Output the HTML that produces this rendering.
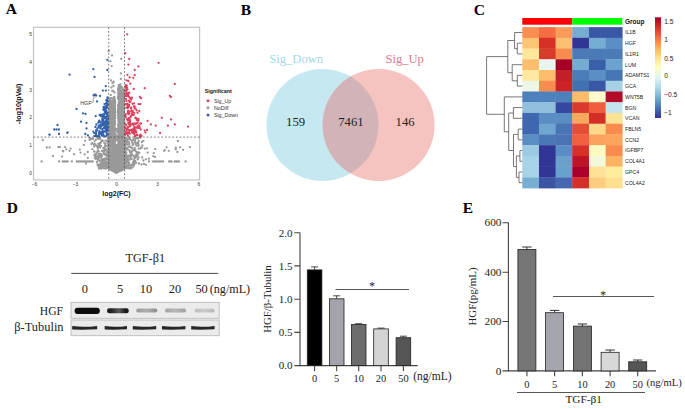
<!DOCTYPE html>
<html><head><meta charset="utf-8"><style>
html,body{margin:0;padding:0;background:#fff;}
svg{display:block;}
</style></head><body>
<svg width="685" height="409" viewBox="0 0 685 409">
<defs>
<linearGradient id="cb" x1="0" y1="0" x2="0" y2="1">
<stop offset="0" stop-color="#A50026"/><stop offset="0.1" stop-color="#D73027"/><stop offset="0.2" stop-color="#F46D43"/>
<stop offset="0.3" stop-color="#FDAE61"/><stop offset="0.4" stop-color="#FEE090"/><stop offset="0.5" stop-color="#FFFFBF"/>
<stop offset="0.6" stop-color="#E0F3F8"/><stop offset="0.7" stop-color="#ABD9E9"/><stop offset="0.8" stop-color="#74ADD1"/>
<stop offset="0.9" stop-color="#4575B4"/><stop offset="1" stop-color="#313695"/>
</linearGradient>
<filter id="bl" x="-10%" y="-50%" width="120%" height="200%"><feGaussianBlur stdDeviation="0.6"/></filter>
<linearGradient id="l2" x1="0" x2="1" y1="0" y2="0"><stop offset="0" stop-color="#151515"/><stop offset="0.25" stop-color="#2a2a2a"/><stop offset="0.55" stop-color="#5a5a5a"/><stop offset="0.85" stop-color="#1a1a1a"/><stop offset="1" stop-color="#111"/></linearGradient>
<linearGradient id="l3" x1="0" x2="1" y1="0" y2="0"><stop offset="0" stop-color="#9a9a9a"/><stop offset="0.5" stop-color="#b0b0b0"/><stop offset="1" stop-color="#8e8e8e"/></linearGradient>
<linearGradient id="l4" x1="0" x2="1" y1="0" y2="0"><stop offset="0" stop-color="#a2a2a2"/><stop offset="0.5" stop-color="#b8b8b8"/><stop offset="1" stop-color="#a0a0a0"/></linearGradient>
<linearGradient id="l5" x1="0" x2="1" y1="0" y2="0"><stop offset="0" stop-color="#bdbdbd"/><stop offset="0.5" stop-color="#cbcbcb"/><stop offset="1" stop-color="#b8b8b8"/></linearGradient>
<clipPath id="cl"><circle cx="322.5" cy="125" r="56"/></clipPath>
<clipPath id="vf"><rect x="33.5" y="27.3" width="166.1" height="152.7"/></clipPath>
</defs>
<rect width="685" height="409" fill="#fff"/>

<g font-family="Liberation Serif, serif" font-weight="bold" font-size="15.5" fill="#000">
<text x="5.8" y="14.3">A</text><text x="240.8" y="15.3">B</text><text x="473.8" y="14.9">C</text>
<text x="6.8" y="213">D</text><text x="462.8" y="212.9">E</text>
</g>

<g clip-path="url(#vf)">
<g>
<path d="M112.6 170.0h0M109.2 162.4h0M121.5 132.3h0M118.8 163.0h0M121.9 106.1h0M124.4 127.1h0M113.8 158.6h0M123.5 134.5h0M111.2 106.8h0M116.3 167.5h0M112.9 127.9h0M116.5 169.4h0M120.3 168.4h0M109.9 152.3h0M115.9 165.7h0M109.9 163.3h0M118.2 168.8h0M123.7 103.2h0M115.9 172.3h0M110.8 113.0h0M114.1 156.1h0M124.1 137.8h0M110.7 166.8h0M114.7 110.0h0M120.9 118.3h0M124.0 120.5h0M113.1 112.4h0M116.9 161.9h0M108.7 155.0h0M112.6 129.3h0M116.3 169.9h0M121.7 120.5h0M115.6 155.0h0M109.3 165.1h0M124.3 118.7h0M110.2 162.7h0M122.6 106.6h0M115.5 149.3h0M114.3 129.7h0M118.5 121.2h0M110.8 115.6h0M112.2 139.1h0M108.8 149.5h0M116.8 169.1h0M122.8 99.3h0M119.0 119.0h0M110.6 162.0h0M122.1 129.9h0M120.2 168.0h0M123.1 108.6h0M109.6 108.0h0M109.8 128.6h0M112.4 164.1h0M123.5 169.1h0M112.9 169.5h0M120.9 139.5h0M110.9 153.9h0M109.7 144.4h0M110.7 166.6h0M113.7 168.3h0M114.9 147.0h0M121.4 168.2h0M109.6 149.5h0M124.0 111.4h0M123.0 139.4h0M109.4 107.6h0M122.0 158.7h0M110.9 124.2h0M120.2 161.5h0M116.3 161.1h0M120.7 100.9h0M123.0 131.4h0M113.4 114.1h0M116.4 158.8h0M120.1 119.7h0M116.5 157.5h0M123.5 107.9h0M116.4 154.4h0M116.1 168.6h0M113.9 133.0h0M119.5 126.1h0M113.5 147.5h0M112.2 122.0h0M119.4 140.0h0M109.5 108.3h0M123.9 168.6h0M113.3 145.1h0M122.6 115.6h0M114.6 120.3h0M119.8 103.6h0M116.4 166.1h0M110.2 100.1h0M114.2 131.3h0M113.6 146.7h0M114.8 104.6h0M114.4 123.8h0M119.0 143.4h0M122.9 158.9h0M110.6 111.5h0M119.9 96.3h0M121.2 144.1h0M112.0 124.1h0M123.3 143.4h0M119.7 166.4h0M112.5 113.9h0M111.7 162.9h0M121.0 159.7h0M119.2 119.2h0M120.7 133.0h0M109.5 140.5h0M114.6 100.7h0M109.7 104.0h0M109.1 135.3h0M122.3 121.8h0M116.4 152.8h0M109.4 113.8h0M123.7 160.3h0M114.8 148.8h0M115.4 171.8h0M119.5 138.8h0M123.0 129.9h0M114.3 158.6h0M114.0 132.1h0M114.0 111.1h0M116.6 172.2h0M121.6 95.2h0M109.3 136.3h0M122.9 134.3h0M114.3 98.4h0M121.2 100.7h0M108.8 160.9h0M121.3 120.3h0M111.5 129.6h0M120.7 162.8h0M120.1 150.1h0M123.3 124.4h0M117.3 169.0h0M124.2 148.9h0M113.0 142.1h0M118.8 96.2h0M115.7 155.1h0M117.9 155.2h0M119.4 169.5h0M118.5 159.9h0M124.5 114.6h0M124.4 160.5h0M119.7 133.5h0M116.5 166.4h0M122.6 109.3h0M121.7 127.6h0M120.3 126.5h0M116.0 162.5h0M113.9 163.0h0M111.8 165.3h0M115.1 159.1h0M116.0 164.7h0M112.8 149.9h0M115.8 160.9h0M112.8 126.2h0M116.3 171.4h0M113.7 167.7h0M111.2 138.5h0M117.5 163.4h0M121.1 95.8h0M122.6 162.3h0M119.0 144.9h0M116.5 150.1h0M122.6 139.7h0M111.8 121.3h0M118.7 113.7h0M112.3 134.9h0M119.4 114.9h0M113.4 154.3h0M124.3 99.8h0M118.3 152.4h0M119.0 88.7h0M110.8 158.9h0M119.2 164.9h0M113.0 156.0h0M118.7 99.5h0M114.5 163.0h0M113.8 112.6h0M121.4 106.0h0M122.5 126.3h0M114.5 104.3h0M123.0 137.7h0M118.6 102.8h0M118.3 143.7h0M111.3 169.2h0M110.5 135.1h0M121.1 94.3h0M121.1 126.1h0M115.7 167.1h0M115.2 157.4h0M121.2 106.3h0M113.5 144.4h0M116.1 169.5h0M110.5 120.0h0M114.3 140.3h0M113.0 116.1h0M110.2 133.9h0M109.6 134.5h0M123.8 90.9h0M111.3 138.8h0M121.0 120.8h0M112.8 159.3h0M121.9 149.4h0M111.9 157.2h0M113.0 101.5h0M111.8 131.1h0M114.1 140.0h0M121.4 153.1h0M114.6 151.3h0M119.9 165.6h0M117.9 149.4h0M119.7 127.1h0M109.7 148.6h0M120.8 168.9h0M113.4 124.8h0M116.5 155.7h0M114.5 136.5h0M113.5 143.5h0M112.5 115.6h0M123.7 119.5h0M119.2 96.5h0M109.1 167.4h0M108.7 129.3h0M116.5 167.7h0M123.0 110.3h0M119.0 96.8h0M114.0 169.7h0M112.2 134.1h0M110.7 158.3h0M112.0 123.0h0M122.0 146.8h0M109.7 127.6h0M113.7 149.2h0M119.3 115.4h0M113.5 139.0h0M111.0 119.1h0M112.7 133.7h0M110.8 105.3h0M113.3 114.9h0M118.0 151.0h0M119.9 93.5h0M119.4 96.2h0M109.4 125.0h0M122.0 126.9h0M112.1 141.4h0M120.2 116.9h0M110.5 166.0h0M114.0 136.1h0M115.0 116.4h0M109.7 123.6h0M109.8 127.0h0M110.6 120.6h0M117.6 172.2h0M124.3 139.9h0M116.8 171.9h0M120.8 156.2h0M108.7 144.6h0M124.5 114.8h0M113.4 141.5h0M119.7 122.6h0M121.1 91.6h0M113.5 149.9h0M118.9 163.4h0M109.1 148.1h0M124.0 106.0h0M113.8 158.5h0M115.1 156.2h0M122.9 144.7h0M123.4 114.3h0M110.4 146.7h0M116.3 152.2h0M116.6 161.2h0M116.8 169.6h0M113.1 111.0h0M115.0 102.1h0M114.5 146.3h0M114.3 129.9h0M121.4 124.9h0M111.4 158.7h0M114.7 108.1h0M122.0 135.5h0M121.3 153.9h0M116.7 168.6h0M118.6 131.5h0M121.8 116.2h0M124.1 160.6h0M116.0 159.7h0M122.7 121.4h0M123.6 112.5h0M123.8 159.8h0M113.7 116.4h0M122.0 161.9h0M113.5 131.1h0M121.5 92.2h0M123.4 115.9h0M117.2 171.8h0M118.5 149.7h0M111.6 113.7h0M110.7 128.0h0M111.6 126.3h0M116.5 149.5h0M117.1 150.1h0M118.9 95.6h0M115.5 154.2h0M109.6 163.6h0M115.8 134.1h0M112.6 154.1h0M124.4 128.4h0M116.1 147.9h0M111.1 163.3h0M118.3 107.8h0M111.1 134.7h0M110.0 118.2h0M113.0 151.7h0M120.1 118.5h0M119.8 88.1h0M119.9 155.1h0M122.6 150.8h0M123.9 99.7h0M110.7 142.4h0M112.3 169.5h0M123.2 112.9h0M120.3 150.7h0M121.2 163.0h0M115.1 102.8h0M113.5 157.3h0M112.2 101.7h0M120.4 143.5h0M113.7 145.2h0M111.1 168.3h0M118.1 97.9h0M122.0 105.6h0M108.9 165.3h0M118.6 141.2h0M119.3 168.9h0M112.2 122.5h0M114.7 165.1h0M115.0 104.7h0M108.8 155.5h0M120.2 122.0h0M120.1 104.7h0M113.1 127.8h0M119.7 166.9h0M114.6 154.7h0M114.8 102.3h0M113.6 120.8h0M123.9 149.4h0M112.8 111.8h0M122.5 137.6h0M110.7 145.0h0M109.8 154.3h0M118.0 117.3h0M113.1 150.7h0M111.9 104.8h0M114.6 168.2h0M116.4 166.3h0M112.8 143.4h0M112.1 170.5h0M111.9 156.2h0M119.0 92.2h0M116.8 165.5h0M112.3 168.7h0M116.4 165.4h0M108.9 108.8h0M123.1 150.7h0M118.9 135.7h0M118.4 160.4h0M120.3 148.4h0M109.5 107.6h0M109.1 136.1h0M118.9 164.7h0M117.0 155.2h0M122.7 157.6h0M120.5 137.9h0M119.0 171.6h0M121.9 163.2h0M111.6 129.2h0M121.8 136.5h0M110.8 123.3h0M123.8 166.9h0M119.6 134.6h0M122.9 156.4h0M124.3 163.9h0M121.5 158.4h0M110.2 145.7h0M110.3 147.4h0M123.4 147.2h0M119.7 110.9h0M123.1 127.5h0M111.0 133.8h0M113.4 131.0h0M118.6 118.2h0M121.3 161.2h0M113.0 107.5h0M123.1 95.2h0M112.9 144.0h0M121.9 130.9h0M121.4 132.8h0M113.1 159.2h0M110.2 158.8h0M117.6 156.8h0M119.9 113.2h0M114.9 104.4h0M113.4 166.3h0M121.7 170.5h0M123.1 165.7h0M116.0 154.8h0M117.1 157.5h0M113.4 137.6h0M110.3 149.4h0M122.2 88.8h0M119.3 155.0h0M114.7 154.1h0M108.7 159.1h0M113.2 140.5h0M123.8 116.7h0M118.0 130.4h0M115.3 171.5h0M108.9 145.9h0M122.2 114.3h0M118.0 118.1h0M123.0 111.4h0M112.1 131.5h0M116.1 163.0h0M118.4 148.6h0M117.6 157.4h0M114.0 168.5h0M117.7 156.6h0M119.4 148.7h0M119.1 136.3h0M116.5 159.5h0M124.5 132.4h0M121.9 92.1h0M113.1 159.8h0M109.5 105.7h0M108.8 122.3h0M108.8 103.8h0M121.5 97.6h0M115.0 159.9h0M110.1 104.2h0M110.9 137.0h0M109.5 139.8h0M120.2 150.8h0M117.6 172.1h0M123.6 136.3h0M119.9 138.0h0M121.0 167.4h0M120.8 142.1h0M113.9 154.8h0M111.8 161.9h0M112.4 126.3h0M122.0 106.5h0M121.1 138.8h0M115.1 153.7h0M119.4 144.1h0M112.1 105.9h0M124.4 135.4h0M114.9 165.8h0M110.6 160.7h0M109.1 153.3h0M116.1 159.7h0M120.2 92.6h0M119.3 166.8h0M123.6 164.1h0M123.0 102.7h0M112.4 118.7h0M114.5 121.1h0M113.7 118.2h0M112.1 127.9h0M120.3 170.4h0M114.6 159.5h0M118.2 126.2h0M117.2 163.4h0M116.2 168.8h0M119.8 130.4h0M119.3 101.9h0M123.9 162.5h0M117.6 169.3h0M111.1 119.8h0M114.3 135.4h0M120.8 168.7h0M114.1 132.2h0M122.3 122.2h0M119.0 156.7h0M111.1 127.4h0M115.1 124.7h0M122.7 153.6h0M121.4 98.7h0M108.9 126.5h0M120.3 170.8h0M121.7 144.5h0M108.8 117.7h0M111.1 164.7h0M109.5 161.6h0M115.6 167.8h0M110.4 165.2h0M112.8 129.1h0M122.5 168.6h0M122.8 139.5h0M112.5 161.6h0M109.3 142.0h0M112.1 123.2h0M113.7 105.2h0M118.3 168.4h0M112.4 116.4h0M113.9 155.9h0M111.2 128.8h0M120.8 169.0h0M120.5 170.7h0M119.2 112.1h0M114.5 105.5h0M113.4 124.2h0M111.4 124.4h0M115.1 169.4h0M110.7 118.1h0M118.1 110.1h0M119.1 167.3h0M112.3 135.5h0M115.3 150.6h0M115.1 153.6h0M120.0 117.6h0M112.5 165.2h0M121.1 170.7h0M120.0 114.3h0M113.4 133.3h0M116.3 165.9h0M112.4 128.7h0M119.2 167.9h0M110.5 163.1h0M110.0 126.0h0M108.7 147.9h0M109.1 135.7h0M110.9 141.9h0M110.1 105.0h0M120.8 156.2h0M111.0 101.7h0M114.0 123.9h0M120.8 159.8h0M122.7 129.9h0M122.0 107.1h0M115.4 153.4h0M109.1 123.3h0M119.6 102.0h0M113.6 160.8h0M119.7 128.0h0M113.2 153.4h0M115.9 149.6h0M116.7 146.1h0M118.8 94.4h0M124.3 139.9h0M123.7 146.5h0M116.4 147.2h0M112.9 117.7h0M119.3 150.3h0M112.4 170.7h0M123.3 143.3h0M112.5 167.6h0M121.0 95.0h0M110.4 134.7h0M114.4 151.1h0M110.6 149.6h0M118.4 138.2h0M121.5 112.2h0M124.3 92.9h0M121.8 119.5h0M122.2 87.5h0M108.7 139.3h0M118.7 140.9h0M122.6 131.2h0M118.8 122.4h0M123.9 144.6h0M120.7 92.0h0M122.8 157.7h0M116.0 152.5h0M120.1 152.3h0M113.4 107.5h0M119.6 141.8h0M110.6 115.8h0M114.3 96.8h0M113.0 161.7h0M118.5 94.1h0M122.3 120.1h0M123.6 164.3h0M115.7 140.4h0M117.9 165.9h0M122.5 113.6h0M109.6 126.0h0M112.7 158.8h0M112.0 121.2h0M114.9 100.6h0M119.3 163.9h0M110.5 152.2h0M114.8 114.7h0M108.8 146.1h0M112.9 165.6h0M116.0 138.8h0M119.0 87.9h0M124.2 160.3h0M114.5 143.3h0M120.3 96.4h0M121.4 121.1h0M109.0 160.6h0M121.2 114.6h0M112.8 113.7h0M122.9 155.0h0M121.5 94.4h0M119.2 139.3h0M123.5 142.8h0M116.2 148.5h0M118.2 120.1h0M109.9 108.8h0M118.2 163.7h0M111.0 143.2h0M110.4 158.8h0M120.7 86.3h0M113.3 141.6h0M120.9 129.8h0M118.8 119.9h0M122.1 155.3h0M123.3 161.4h0M120.8 165.2h0M119.6 155.8h0M114.1 120.1h0M123.3 123.9h0M114.8 170.1h0M123.7 125.1h0M119.2 127.2h0M118.1 114.5h0M113.7 143.8h0M116.1 155.4h0M110.8 126.6h0M112.7 104.5h0M112.8 115.2h0M112.9 119.7h0M111.7 166.6h0M111.2 156.0h0M110.5 155.8h0M110.4 167.5h0M122.1 111.4h0M119.5 134.6h0M124.2 164.1h0M111.8 162.3h0M109.9 163.6h0M114.4 166.0h0M118.9 126.5h0M116.0 171.9h0M121.6 159.4h0M112.6 132.7h0M118.0 97.3h0M124.4 165.9h0M118.5 121.3h0M120.2 120.6h0M113.2 140.3h0M109.9 115.9h0M113.1 110.6h0M118.3 144.0h0M109.6 113.3h0M118.7 136.5h0M120.0 130.1h0M114.7 112.4h0M122.9 121.1h0M111.0 169.5h0M110.4 126.6h0M122.8 121.3h0M122.9 147.1h0M119.2 96.9h0M115.6 154.4h0M110.0 111.2h0M110.0 145.8h0M113.5 147.5h0M120.3 99.3h0M119.7 131.6h0M112.6 125.2h0M123.6 166.8h0M113.3 116.2h0M117.9 152.5h0M122.9 122.7h0M112.1 167.7h0M121.8 115.7h0M116.4 160.2h0M112.5 168.9h0M113.8 162.3h0M114.8 118.7h0M120.5 90.7h0M119.0 171.6h0M115.3 147.6h0M114.1 104.2h0M115.7 140.6h0M112.6 126.1h0M114.6 100.1h0M122.2 96.7h0M113.1 164.9h0M122.1 94.7h0M123.9 95.2h0M122.8 134.6h0M120.7 139.4h0M117.5 162.7h0M115.1 131.5h0M111.2 111.0h0M114.6 142.8h0M111.2 144.4h0M109.6 144.7h0M110.3 154.7h0M124.2 89.7h0M111.0 149.9h0M116.6 161.8h0M111.6 113.3h0M123.5 163.4h0M110.5 122.3h0M121.7 105.5h0M123.3 152.4h0M122.2 139.0h0M121.7 115.5h0M114.7 154.1h0M124.3 118.9h0M123.6 120.2h0M124.3 134.3h0M124.0 97.1h0M116.2 172.2h0M115.8 162.3h0M108.9 164.4h0M111.1 143.6h0M110.7 123.1h0M115.8 164.6h0M121.2 102.8h0M119.2 168.4h0M124.0 169.2h0M113.7 144.1h0M123.1 148.0h0M120.9 129.7h0M122.4 125.1h0M121.2 109.0h0M114.6 150.4h0M123.1 123.9h0M113.1 131.8h0M109.7 104.5h0M109.0 131.0h0M108.9 138.6h0M113.5 161.8h0M111.3 111.3h0M114.1 161.1h0M119.0 148.3h0M110.5 163.5h0M110.4 150.5h0M110.5 147.1h0M122.3 126.4h0M109.0 161.3h0M121.2 125.6h0M113.8 125.6h0M116.8 165.1h0M113.7 117.5h0M124.1 128.2h0M120.6 164.2h0M122.6 157.2h0M123.3 117.8h0M114.6 142.7h0M110.7 137.8h0M123.2 162.1h0M124.1 92.8h0M121.3 160.4h0M123.6 126.3h0M123.9 142.3h0M114.1 104.7h0M113.7 123.6h0M117.6 169.6h0M112.7 165.4h0M118.4 88.0h0M120.9 152.8h0M116.7 163.1h0M108.8 151.8h0M119.8 160.8h0M111.7 157.7h0M121.9 168.8h0M108.9 166.1h0M118.8 89.9h0M123.6 114.3h0M113.2 161.9h0M109.4 134.1h0M110.7 160.7h0M119.1 126.0h0M109.9 114.4h0M121.2 102.3h0M113.0 123.3h0M121.4 107.9h0M112.0 145.6h0M115.7 168.3h0M124.4 142.9h0M117.7 169.5h0M118.8 88.7h0M121.3 133.5h0M111.6 113.0h0M115.1 108.7h0M118.4 106.3h0M110.9 153.9h0M120.5 86.7h0M113.5 128.3h0M111.5 117.8h0M121.9 146.0h0M120.3 169.6h0M109.1 168.7h0M117.5 172.3h0M112.9 151.0h0M113.8 154.2h0M118.3 164.3h0M116.3 158.0h0M120.0 148.1h0M118.5 147.5h0M118.6 91.3h0M116.4 160.8h0M121.1 108.1h0M120.5 109.7h0M115.5 165.8h0M110.4 162.6h0M119.0 169.3h0M110.0 104.7h0M108.9 138.9h0M120.2 113.7h0M119.4 150.1h0M120.5 96.3h0M110.0 165.4h0M111.5 161.5h0M115.8 152.6h0M123.7 159.6h0M121.7 167.2h0M114.7 148.4h0M109.3 128.5h0M110.3 111.0h0M115.4 165.7h0M124.2 149.1h0M108.9 113.6h0M113.9 144.9h0M119.2 133.9h0M121.7 136.7h0M116.9 160.7h0M115.8 170.8h0M120.2 150.7h0M113.0 167.1h0M124.5 154.3h0M112.4 140.2h0M116.2 161.1h0M118.0 139.2h0M109.0 105.4h0M120.5 143.6h0M116.8 168.9h0M114.7 143.3h0M118.3 169.7h0M119.5 108.2h0M122.5 113.3h0M123.3 120.2h0M113.9 163.4h0M110.0 109.5h0M111.5 128.0h0M123.6 161.3h0M118.9 131.9h0M113.1 165.7h0M123.6 147.4h0M112.9 124.8h0M122.1 110.3h0M118.6 125.4h0M120.9 139.1h0M118.6 91.2h0M124.0 121.8h0M111.3 152.4h0M108.9 122.2h0M119.8 164.7h0M110.0 154.1h0M113.3 107.6h0M116.5 152.4h0M116.7 156.2h0M121.0 152.3h0M118.4 89.8h0M123.2 92.9h0M112.7 163.9h0M118.0 137.0h0M114.4 111.2h0M119.5 161.1h0M123.7 148.2h0M121.5 151.8h0M116.0 167.1h0M110.3 146.4h0M124.3 123.7h0M115.2 150.6h0M118.7 127.0h0M116.5 147.2h0M123.2 139.0h0M124.4 149.2h0M112.1 107.5h0M123.1 137.2h0M118.9 149.8h0M117.5 165.1h0M121.7 164.3h0M111.1 166.1h0M111.2 113.0h0M124.1 110.6h0M119.7 105.3h0M122.3 101.3h0M111.6 139.0h0M122.2 115.8h0M119.2 148.5h0M119.2 86.4h0M123.4 129.5h0M115.2 112.5h0M118.5 157.7h0M111.6 142.0h0M111.2 160.8h0M112.1 163.4h0M119.9 136.5h0M108.9 131.6h0M111.1 151.6h0M110.8 147.2h0M109.2 150.6h0M111.9 131.4h0M112.4 146.1h0M118.2 162.2h0M120.0 139.0h0M110.1 122.6h0M121.1 118.3h0M114.4 133.0h0M108.8 121.4h0M116.3 168.2h0M112.2 111.2h0M112.6 146.3h0M115.8 172.5h0M111.3 114.9h0M113.8 139.2h0M110.0 140.3h0M120.1 113.7h0M122.0 98.5h0M113.3 108.3h0M118.2 93.4h0M120.8 160.4h0M118.9 134.8h0M113.5 155.2h0M120.7 156.9h0M122.9 127.1h0M114.9 148.0h0M114.4 149.7h0M115.4 166.2h0M109.2 164.7h0M116.6 156.4h0M120.7 136.2h0M111.4 166.5h0M118.0 98.8h0M120.0 130.7h0M111.1 162.2h0M118.1 93.2h0M114.0 113.6h0M119.8 95.4h0M114.5 166.4h0M122.1 112.2h0M112.5 134.0h0M119.8 158.1h0M119.7 126.5h0M112.8 145.7h0M120.4 154.4h0M119.9 107.9h0M109.2 129.5h0M110.0 157.2h0M116.4 162.7h0M121.8 151.4h0M113.8 109.5h0M117.3 168.0h0M112.2 166.3h0M124.5 107.4h0M122.7 95.0h0M114.5 127.3h0M109.9 120.2h0M121.7 147.0h0M113.5 126.3h0M118.7 91.9h0M118.2 90.6h0M122.0 170.3h0M122.3 156.6h0M110.8 158.3h0M117.1 166.6h0M116.5 163.9h0M119.0 162.0h0M112.2 129.9h0M112.4 154.2h0M114.4 118.6h0M110.5 121.4h0M118.5 143.3h0M113.1 128.0h0M108.7 117.2h0M123.9 152.2h0M121.9 100.4h0M112.6 139.3h0M115.7 164.0h0M108.7 151.8h0M121.5 119.4h0M112.5 167.8h0M116.8 168.2h0M119.8 132.1h0M111.9 170.6h0M122.1 115.0h0M123.3 131.9h0M118.0 139.6h0M119.5 131.6h0M123.6 97.1h0M113.0 127.1h0M113.7 131.5h0M114.1 161.0h0M119.1 157.8h0M119.7 166.3h0M119.3 124.5h0M112.9 168.2h0M122.4 157.3h0M121.4 92.3h0M109.2 102.9h0M119.9 99.0h0M117.4 147.6h0M109.9 150.1h0M110.9 142.8h0M120.1 100.6h0M114.8 102.1h0M119.4 135.8h0M111.6 153.6h0M110.6 169.8h0M117.2 171.8h0M119.1 129.3h0M121.7 115.3h0M121.7 110.7h0M113.7 101.6h0M116.2 162.8h0M113.7 109.8h0M114.3 145.6h0M118.7 107.8h0M123.6 93.7h0M119.7 116.9h0M113.1 107.2h0M109.6 108.1h0M122.4 113.4h0M119.4 97.7h0M123.8 158.7h0M112.1 117.5h0M110.1 135.1h0M112.9 156.0h0M120.7 138.7h0M117.9 161.7h0M121.3 136.8h0M113.8 115.6h0M109.1 138.2h0M123.2 154.9h0M124.1 116.3h0M109.2 127.9h0M111.4 115.8h0M123.4 156.0h0M111.1 104.6h0M113.4 145.1h0M114.0 100.0h0M123.3 105.3h0M114.9 128.2h0M120.2 146.5h0M115.0 118.3h0M123.2 168.1h0M115.3 154.8h0M111.1 133.6h0M118.5 151.4h0M116.1 148.9h0M121.4 129.8h0M123.7 133.0h0M119.5 135.9h0M118.5 123.2h0M114.1 152.6h0M118.4 115.3h0M120.0 90.3h0M119.5 101.1h0M119.1 131.8h0M110.4 125.2h0M122.5 109.6h0M121.4 153.6h0M122.9 163.7h0M116.7 156.1h0M120.0 124.0h0M122.1 165.9h0M117.5 158.5h0M122.0 98.0h0M122.9 113.4h0M114.0 97.1h0M124.0 123.0h0M111.0 145.4h0M114.0 167.3h0M110.2 155.3h0M116.2 162.7h0M115.0 106.7h0M115.3 163.9h0M120.0 115.6h0M120.3 150.3h0M111.2 144.2h0M114.0 137.9h0M122.5 124.9h0M114.6 124.8h0M112.0 110.4h0M113.1 161.4h0M112.5 160.2h0M118.5 142.1h0M120.7 137.1h0M123.5 130.2h0M115.9 152.8h0M110.7 140.7h0M113.3 102.7h0M119.7 139.1h0M121.3 158.2h0M122.3 164.4h0M109.7 162.5h0M112.6 143.6h0M109.0 136.9h0M116.3 157.9h0M118.3 125.8h0M114.4 136.4h0M113.1 162.0h0M124.2 144.3h0M113.6 129.0h0M122.5 137.6h0M110.2 135.1h0M123.0 122.3h0M122.7 93.2h0M119.0 152.0h0M112.6 144.2h0M119.3 135.1h0M113.5 158.9h0M110.7 143.9h0M121.8 154.0h0M119.0 166.8h0M119.0 110.6h0M123.0 105.6h0M111.3 114.7h0M110.9 167.4h0M122.2 93.8h0M113.2 127.2h0M112.2 159.1h0M121.0 121.6h0M120.4 84.4h0M110.1 136.9h0M111.4 166.9h0M109.9 163.8h0M117.4 157.5h0M118.7 113.9h0M110.3 112.1h0M118.6 155.3h0M119.9 126.5h0M123.1 116.9h0M112.5 115.1h0M121.3 134.8h0M112.7 155.6h0M112.8 166.5h0M122.8 161.3h0M111.6 168.9h0M113.7 114.7h0M110.2 148.9h0M117.8 170.9h0M122.9 162.4h0M113.1 160.3h0M122.2 121.0h0M113.1 133.3h0M119.1 137.1h0M116.7 155.5h0M109.0 117.0h0M119.3 131.8h0M120.3 109.8h0M112.4 155.7h0M113.2 111.8h0M112.2 118.9h0M122.5 115.5h0M110.7 108.6h0M121.6 168.0h0M112.7 170.2h0M119.9 152.7h0M117.1 145.8h0M121.5 113.0h0M111.2 167.3h0M110.6 116.6h0M112.7 161.7h0M123.9 115.7h0M123.3 163.8h0M118.9 169.6h0M109.0 154.4h0M121.9 169.4h0M113.2 112.0h0M116.7 172.7h0M117.0 157.6h0M120.7 150.8h0M118.2 133.0h0M121.9 152.5h0M112.6 151.7h0M112.3 112.8h0M110.6 152.0h0M122.4 121.1h0M118.9 139.2h0M111.5 167.5h0M114.0 160.3h0M110.4 166.9h0M124.2 138.3h0M123.8 117.3h0M120.9 104.9h0M122.2 146.9h0M121.2 157.0h0M110.7 145.7h0M124.0 129.8h0M115.3 147.6h0M111.0 116.5h0M114.2 130.3h0M119.0 151.6h0M110.5 169.5h0M123.7 167.9h0M112.4 167.2h0M113.4 103.0h0M120.8 169.3h0M121.1 163.3h0M120.7 118.8h0M122.9 166.5h0M110.4 147.7h0M122.8 95.5h0M110.8 154.6h0M119.3 117.0h0M115.1 167.6h0M116.8 158.6h0M118.8 158.8h0M118.2 124.7h0M109.4 140.6h0M109.9 114.8h0M121.0 124.4h0M122.2 137.5h0M115.5 171.2h0M119.2 160.2h0M109.1 163.4h0M118.3 117.1h0M116.3 151.9h0M118.2 136.0h0M110.0 132.7h0M118.3 111.1h0M109.8 140.6h0M110.5 151.4h0M120.6 142.0h0M112.6 142.2h0M124.5 147.7h0M114.8 158.9h0M113.3 136.5h0M109.0 130.7h0M117.5 136.0h0M124.0 146.4h0M114.8 146.4h0M114.2 99.1h0M122.2 131.6h0M109.2 152.7h0M115.7 146.2h0M119.8 115.2h0M119.7 118.6h0M119.1 141.1h0M115.5 154.8h0M114.3 139.7h0M110.8 121.9h0M120.6 166.9h0M115.9 149.5h0M112.8 169.7h0M124.1 110.6h0M110.7 121.2h0M118.8 96.3h0M110.3 158.6h0M115.0 113.2h0M113.9 118.0h0M120.9 155.4h0M124.3 92.3h0M114.6 135.7h0M116.7 149.7h0M109.7 113.4h0M117.6 156.7h0M111.4 139.4h0M111.7 146.2h0M118.9 133.6h0M122.1 166.2h0M123.9 112.4h0M123.5 142.1h0M115.5 162.5h0M122.5 127.9h0M113.6 109.6h0M113.6 149.1h0M114.4 104.7h0M113.1 148.6h0M120.6 153.6h0M110.4 112.7h0M121.1 138.5h0M122.1 141.4h0M114.1 101.1h0M114.6 170.7h0M120.3 123.8h0M122.0 150.1h0M113.4 158.9h0M112.5 158.9h0M119.1 145.3h0M123.5 128.6h0M120.9 138.1h0M112.6 147.1h0M113.0 143.1h0M124.5 122.6h0M110.6 128.0h0M111.8 108.3h0M124.3 113.3h0M112.9 105.3h0M109.8 151.3h0M108.8 113.8h0M122.3 135.2h0M118.9 118.5h0M121.1 106.1h0M124.4 126.6h0M111.0 112.5h0M124.0 144.6h0M123.9 130.5h0M116.3 170.2h0M124.1 153.8h0M120.0 106.1h0M122.1 151.1h0M111.8 121.6h0M123.3 118.1h0M114.2 153.2h0M116.9 165.9h0M116.8 163.0h0M115.7 158.3h0M119.2 127.0h0M110.9 143.7h0M120.5 165.8h0M123.5 110.3h0M119.3 117.8h0M114.6 147.3h0M116.9 172.1h0M120.8 93.3h0M113.6 171.4h0M124.5 142.8h0M116.8 163.6h0M113.2 170.7h0M117.3 162.7h0M120.0 145.0h0M123.7 144.9h0M119.1 115.7h0M119.9 95.0h0M116.2 163.3h0M108.8 160.8h0M124.2 103.6h0M114.5 167.5h0M119.4 170.1h0M110.1 166.0h0M122.4 133.8h0M111.4 113.2h0M111.3 162.5h0M124.3 123.4h0M123.3 103.2h0M118.1 111.2h0M115.0 157.5h0M110.7 126.9h0M120.7 117.7h0M124.3 160.3h0M110.1 147.6h0M115.0 109.9h0M124.1 98.4h0M116.0 148.4h0M112.8 161.3h0M112.6 123.5h0M113.0 162.8h0M112.0 125.3h0M123.2 100.5h0M114.1 155.4h0M120.5 130.2h0M114.7 145.7h0M112.1 156.3h0M117.6 162.7h0M115.0 153.8h0M114.6 162.3h0M120.3 90.3h0M112.1 146.1h0M109.7 120.7h0M117.7 164.6h0M112.3 148.1h0M108.8 134.1h0M116.7 164.1h0M111.3 102.6h0M109.7 142.7h0M115.7 151.6h0M120.4 101.7h0M108.7 165.7h0M113.7 161.8h0M119.1 106.7h0M113.1 119.2h0M114.8 110.7h0M118.0 157.3h0M110.0 114.1h0M122.9 137.4h0M113.5 102.2h0M110.8 128.3h0M116.6 155.6h0M123.8 144.1h0M113.9 106.9h0M120.6 166.9h0M123.5 145.0h0M114.9 129.1h0M112.3 134.6h0M116.4 147.6h0M117.5 136.7h0M122.6 166.7h0M110.5 112.0h0M112.8 116.0h0M122.5 160.5h0M122.3 137.9h0M118.8 134.0h0M111.8 159.2h0M114.3 167.0h0M108.7 122.7h0M121.7 117.6h0M120.2 105.3h0M122.1 135.6h0M112.0 127.4h0M115.9 167.2h0M118.0 98.3h0M119.0 120.3h0M111.8 127.9h0M112.2 159.1h0M115.5 115.3h0M110.7 138.6h0M124.1 98.1h0M123.3 99.5h0M113.7 169.8h0M112.5 167.8h0M117.8 160.3h0M110.4 109.3h0M121.1 147.7h0M121.7 152.1h0M119.0 93.3h0M114.6 158.1h0M110.8 131.7h0M112.0 141.6h0M119.4 108.8h0M114.2 129.2h0M116.6 158.1h0M124.0 157.2h0M111.7 138.5h0M112.6 166.7h0M109.8 104.7h0M115.1 148.8h0M113.4 129.1h0M119.6 98.5h0M114.0 163.8h0M123.6 125.1h0M111.2 151.4h0M120.3 169.7h0M115.0 146.9h0M124.3 158.2h0M114.3 131.0h0M120.6 115.4h0M119.6 155.7h0M111.9 150.2h0M109.6 112.2h0M117.2 171.8h0M113.7 149.8h0M116.7 171.6h0M122.4 165.9h0M111.1 137.8h0M109.5 149.8h0M114.0 125.0h0M116.7 158.1h0M122.4 165.8h0M114.9 100.5h0M119.0 101.8h0M116.9 166.4h0M109.3 159.6h0M119.7 132.2h0M113.4 145.4h0M117.3 172.4h0M111.5 113.8h0M117.6 170.2h0M122.2 147.1h0M110.6 106.1h0M116.5 172.1h0M119.4 170.3h0M119.5 126.4h0M111.8 126.4h0M114.2 162.2h0M113.4 134.3h0M113.5 159.3h0M119.3 165.7h0M118.0 148.3h0M115.7 151.1h0M113.5 146.0h0M116.7 158.5h0M109.9 143.4h0M109.1 113.3h0M113.5 154.3h0M114.0 162.0h0M123.8 127.7h0M120.6 169.6h0M115.1 168.0h0M122.4 162.8h0M119.4 126.8h0M121.3 155.7h0M121.6 92.5h0M114.5 120.1h0M118.6 135.1h0M124.3 156.6h0M113.2 112.6h0M114.3 127.6h0M121.4 95.0h0M123.7 124.3h0M114.5 126.8h0M123.2 152.5h0M110.5 108.5h0M113.6 154.3h0M124.4 153.7h0M109.9 117.2h0M114.6 105.7h0M109.1 101.3h0M123.2 92.3h0M120.1 158.5h0M124.1 138.8h0M115.3 171.0h0M123.2 150.6h0M124.3 146.3h0M112.6 141.6h0M116.1 160.7h0M112.8 160.6h0M111.6 126.0h0M123.5 89.5h0M120.5 157.3h0M118.1 147.0h0M111.3 126.9h0M121.0 153.9h0M120.1 153.2h0M110.3 129.8h0M118.0 141.1h0M118.4 106.9h0M117.0 172.7h0M120.0 152.4h0M109.7 138.4h0M123.8 152.6h0M120.7 107.9h0M117.0 160.1h0M123.5 122.6h0M119.9 116.7h0M110.8 109.6h0M122.5 117.5h0M120.4 107.0h0M122.2 97.0h0M111.8 138.1h0M118.7 168.5h0M113.2 163.5h0M111.6 127.3h0M118.4 95.1h0M124.0 146.6h0M123.1 152.3h0M118.4 156.8h0M121.4 165.7h0M115.6 159.8h0M116.7 165.5h0M113.4 140.1h0M113.9 121.2h0M111.1 157.1h0M120.9 166.8h0M112.5 148.5h0M112.7 135.2h0M115.1 148.1h0M115.1 145.2h0M112.4 150.7h0M118.0 157.3h0M122.5 107.2h0M124.0 97.6h0M112.8 165.7h0M113.9 127.6h0M122.1 96.6h0M118.7 126.7h0M112.5 124.9h0M114.2 170.6h0M123.2 107.4h0M111.4 113.9h0M112.8 144.5h0M124.3 105.3h0M120.7 106.3h0M120.9 130.9h0M123.9 102.8h0M112.3 114.1h0M108.9 109.8h0M112.3 104.2h0M116.2 153.4h0M120.3 100.0h0M119.9 139.0h0M112.9 139.9h0M112.1 116.8h0M110.5 121.7h0M117.0 165.5h0M109.2 104.4h0M115.0 121.3h0M117.0 161.4h0M113.9 148.8h0M122.6 115.5h0M119.3 117.3h0M114.3 135.6h0M111.2 155.5h0M109.2 167.4h0M117.5 148.4h0M109.3 126.3h0M114.0 168.7h0M116.2 162.0h0M109.9 160.2h0M112.9 157.9h0M118.5 87.3h0M115.0 129.2h0M109.7 126.7h0M120.0 148.4h0M115.2 146.1h0M116.6 160.9h0M110.0 165.0h0M123.0 104.1h0M114.6 171.1h0M121.3 107.5h0M122.7 95.3h0M120.4 134.4h0M111.8 98.2h0M122.6 100.0h0M111.6 121.4h0M119.4 101.7h0M112.7 137.1h0M120.7 109.8h0M113.1 130.5h0M110.3 161.5h0M109.5 131.3h0M114.1 151.2h0M116.5 171.4h0M118.8 137.7h0M120.7 112.3h0M119.0 85.6h0M121.8 159.4h0M118.1 106.1h0M110.5 146.1h0M112.8 149.0h0M119.5 140.3h0M122.2 116.7h0M123.7 105.7h0M120.3 148.3h0M118.7 151.0h0M122.0 115.9h0M119.9 135.6h0M109.9 100.9h0M123.2 157.4h0M109.7 116.3h0M118.0 135.6h0M112.6 125.2h0M111.9 134.2h0M114.2 100.8h0M117.8 150.8h0M120.9 127.6h0M124.4 91.7h0M111.7 142.1h0M110.5 119.2h0M116.4 166.6h0M114.6 142.6h0M123.8 123.8h0M120.7 101.6h0M119.8 112.6h0M123.1 155.0h0M114.8 121.6h0M111.0 161.3h0M114.7 131.2h0M111.8 169.7h0M110.8 118.4h0M123.1 145.8h0M117.0 171.5h0M117.1 151.6h0M111.2 151.0h0M124.3 165.4h0M109.3 169.3h0M110.5 138.5h0M114.3 142.2h0M109.7 105.2h0M120.3 142.9h0M120.9 162.7h0M120.9 124.1h0M116.1 162.4h0M110.9 136.0h0M122.9 127.2h0M124.2 141.1h0M114.6 135.9h0M110.7 142.9h0M108.8 125.7h0M122.5 106.4h0M114.7 158.5h0M116.0 131.3h0M118.4 170.1h0M121.0 142.6h0M122.5 139.1h0M116.3 161.1h0M114.6 122.5h0M119.7 134.4h0M116.4 164.1h0M123.2 111.7h0M117.0 170.9h0M117.7 166.3h0M119.9 155.8h0M112.7 137.0h0M115.9 152.9h0M119.0 147.3h0M109.0 151.6h0M123.3 117.4h0M110.2 98.5h0M114.8 140.9h0M115.6 164.7h0M118.2 170.6h0M112.8 123.7h0M110.0 167.6h0M124.5 108.9h0M111.0 113.4h0M119.2 147.1h0M118.9 148.7h0M118.4 114.9h0M115.0 122.9h0M113.0 105.9h0M118.6 145.1h0M110.3 151.6h0M122.7 141.5h0M112.2 150.2h0M115.5 152.4h0M111.4 111.8h0M124.1 165.3h0M117.3 167.8h0M111.8 167.7h0M113.6 134.0h0M113.6 156.8h0M120.1 167.8h0M115.8 159.5h0M114.1 149.8h0M122.9 117.4h0M113.9 145.6h0M120.0 109.5h0M118.5 93.4h0M120.4 167.6h0M121.3 117.7h0M112.7 164.6h0M119.5 96.5h0M119.4 153.6h0M118.1 109.4h0M116.0 172.4h0M122.1 98.6h0M116.9 171.2h0M115.8 168.1h0M114.1 133.7h0M110.7 101.4h0M116.6 163.9h0M110.4 107.8h0M123.6 94.9h0M110.9 105.7h0M111.7 127.9h0M114.6 168.4h0M120.3 109.5h0M123.1 102.0h0M121.7 99.8h0M113.5 126.2h0M112.2 162.1h0M109.0 156.9h0M115.9 160.0h0M119.7 134.0h0M122.3 146.1h0M117.0 169.1h0M123.2 165.9h0M119.4 96.4h0M124.1 167.9h0M120.8 115.9h0M111.6 163.6h0M121.0 121.7h0M120.9 163.8h0M117.8 168.4h0M123.1 139.6h0M111.1 125.0h0M116.4 155.6h0M119.7 102.8h0M118.7 162.6h0M124.2 155.8h0M111.8 115.1h0M114.2 166.6h0M114.7 154.9h0M120.6 144.7h0M121.8 143.9h0M123.0 157.2h0M113.1 158.7h0M110.9 118.5h0M113.0 118.4h0M114.9 171.8h0M123.6 120.9h0M119.4 133.0h0M112.2 143.8h0M110.5 116.8h0M112.9 124.4h0M113.0 146.2h0M120.3 144.8h0M120.5 114.7h0M122.6 156.8h0M117.2 170.8h0M113.6 161.2h0M119.2 165.4h0M118.1 110.2h0M116.5 148.3h0M117.4 161.0h0M118.1 130.4h0M115.7 153.4h0M120.8 133.3h0M114.8 170.9h0M113.4 99.0h0M122.4 121.2h0M108.7 145.8h0M113.5 132.8h0M111.8 119.4h0M117.2 146.4h0M121.8 151.7h0M122.8 132.2h0M110.1 168.6h0M118.4 155.8h0M123.7 158.2h0M115.1 172.4h0M113.1 164.4h0M115.1 166.8h0M114.6 156.0h0M115.7 171.5h0M116.1 144.9h0M114.9 119.1h0M118.2 108.3h0M112.4 145.6h0M113.1 141.7h0M120.8 152.8h0M118.7 154.2h0M120.2 110.6h0M112.3 113.6h0M110.0 135.0h0M110.4 162.9h0M111.2 166.6h0M118.2 96.1h0M124.4 123.5h0M115.1 118.1h0M109.7 157.4h0M114.6 118.5h0M122.9 121.8h0M108.7 149.3h0M116.7 159.7h0M112.3 147.2h0M121.6 92.9h0M110.4 163.2h0M114.7 100.8h0M109.6 120.3h0M113.6 126.7h0M122.8 119.7h0M118.6 154.6h0M120.4 121.2h0M115.1 104.3h0M109.2 166.8h0M119.0 116.9h0M119.0 162.9h0M122.7 101.8h0M117.4 153.8h0M119.1 118.8h0M110.4 149.7h0M118.2 137.1h0M121.7 164.3h0M117.0 168.0h0M115.1 128.8h0M116.4 152.8h0M120.9 123.0h0M116.5 163.0h0M113.3 166.3h0M121.4 133.4h0M122.7 156.9h0M120.4 101.1h0M119.6 138.0h0M123.6 108.2h0M123.2 141.3h0M113.8 126.2h0M109.7 145.9h0M118.8 85.0h0M121.9 169.5h0M116.6 149.0h0M108.7 149.1h0M122.4 168.7h0M113.4 127.9h0M121.6 167.3h0M110.2 161.7h0M123.4 138.1h0M116.0 161.7h0M112.3 108.5h0M121.8 166.3h0M113.1 122.8h0M120.5 131.2h0M112.6 148.9h0M111.0 163.6h0M123.0 156.0h0M112.3 158.8h0M109.5 132.3h0M121.7 111.8h0M112.9 157.0h0M114.2 105.0h0M118.9 127.5h0M114.7 139.7h0M123.8 99.0h0M117.8 171.9h0M116.1 164.7h0M112.6 128.9h0M120.3 121.8h0M117.0 160.4h0M119.3 143.0h0M110.1 120.2h0M111.6 160.4h0M114.7 156.3h0M112.1 109.0h0M114.0 98.9h0M120.4 130.4h0M117.0 155.1h0M115.8 153.8h0M115.0 142.3h0M124.1 153.7h0M119.3 100.9h0M116.7 172.4h0M124.3 121.1h0M110.7 103.3h0M117.6 162.6h0M120.1 105.4h0M121.8 156.8h0M122.5 129.2h0M109.7 153.6h0M119.8 155.7h0M119.6 117.8h0M121.4 112.7h0M116.4 167.2h0M120.9 117.2h0M113.8 106.1h0M118.8 123.4h0M115.1 158.8h0M122.7 148.8h0M113.9 112.7h0M114.8 110.3h0M109.1 116.9h0M122.1 127.5h0M121.0 110.2h0M113.7 145.0h0M112.0 138.1h0M124.3 164.6h0M124.3 142.7h0M112.9 168.1h0M124.0 160.9h0M116.3 145.8h0M111.8 128.2h0M121.4 159.1h0M117.7 152.3h0M110.8 122.7h0M116.1 153.3h0M113.5 140.8h0M113.4 122.9h0M112.8 106.1h0M110.2 164.5h0M116.0 169.5h0M116.9 145.6h0M124.0 98.2h0M120.5 130.8h0M123.6 157.0h0M110.0 151.0h0M109.8 161.5h0M124.5 165.4h0M114.0 98.2h0M114.2 169.7h0M109.8 119.9h0M117.6 158.7h0M116.5 172.5h0M124.4 96.3h0M113.4 154.9h0M121.4 109.6h0M112.0 138.3h0M120.3 161.7h0M109.0 129.2h0M122.8 152.3h0M116.8 156.5h0M108.8 154.2h0M118.5 97.8h0M121.9 149.2h0M113.2 135.9h0M122.5 138.7h0M119.5 96.5h0M116.1 164.6h0M122.6 118.9h0M124.0 101.5h0M116.4 169.1h0M116.3 136.3h0M120.8 148.2h0M117.4 159.8h0M122.9 128.0h0M121.9 157.7h0M109.2 108.9h0M117.9 171.9h0M112.5 122.1h0M119.6 115.3h0M117.7 158.4h0M111.8 143.5h0M113.5 142.7h0M124.3 113.9h0M112.0 115.1h0M113.3 164.7h0M122.2 103.6h0M109.2 131.1h0M112.6 163.4h0M112.8 156.7h0M115.5 155.1h0M114.6 158.8h0M111.3 150.0h0M111.9 164.3h0M121.0 161.0h0M115.9 171.4h0M114.7 100.2h0M116.6 171.7h0M112.7 153.1h0M122.5 164.5h0M123.4 100.3h0M122.8 148.8h0M120.3 96.9h0M120.6 145.7h0M115.5 157.6h0M120.1 148.3h0M121.6 167.7h0M118.0 112.6h0M110.2 160.5h0M111.4 159.3h0M118.0 154.1h0M118.1 168.3h0M120.6 94.4h0M110.4 143.6h0M119.8 152.7h0M119.2 122.5h0M122.9 118.2h0M114.6 168.4h0M117.2 156.3h0M118.8 132.4h0M122.5 96.6h0M123.1 140.7h0M121.3 137.4h0M112.1 104.1h0M112.7 157.4h0M113.3 152.6h0M120.6 143.4h0M123.5 135.4h0M112.4 121.8h0M116.1 168.6h0M112.7 146.2h0M111.1 108.2h0M116.9 150.4h0M119.6 162.3h0M119.2 119.9h0M122.3 144.1h0M112.5 119.9h0M121.2 116.6h0M110.1 119.9h0M110.4 141.6h0M123.6 167.0h0M118.0 132.2h0M111.2 161.7h0M122.9 166.7h0M116.0 170.5h0M110.1 169.4h0M114.0 100.2h0M110.5 158.6h0M121.1 160.8h0M123.3 125.8h0M115.1 101.6h0M117.4 151.4h0M108.8 139.4h0M123.4 127.1h0M119.7 163.6h0M122.2 167.9h0M110.5 161.1h0M122.4 159.8h0M115.2 172.0h0M120.8 150.2h0M113.2 120.3h0M111.0 155.9h0M111.6 169.3h0M123.4 113.6h0M122.1 107.5h0M118.5 131.7h0M121.8 134.3h0M113.9 122.9h0M124.1 152.5h0M111.4 125.0h0M112.1 153.8h0M121.7 116.3h0M110.0 143.9h0M112.8 148.2h0M109.4 105.9h0M113.2 109.8h0M115.5 169.6h0M114.9 153.4h0M111.1 111.7h0M119.1 85.3h0M115.5 112.0h0M115.1 152.2h0M123.0 169.4h0M112.7 164.9h0M109.0 98.7h0M115.1 109.3h0M122.5 159.0h0M121.0 108.7h0M118.5 149.2h0M124.3 115.7h0M118.0 128.5h0M119.7 148.7h0M123.7 164.3h0M119.6 139.7h0M121.4 120.7h0M121.3 116.0h0M119.9 112.7h0M123.1 127.1h0M116.1 169.0h0M117.0 165.4h0M119.8 89.5h0M116.7 157.8h0M117.5 146.4h0M108.7 165.8h0M112.8 132.0h0M110.7 102.6h0M111.5 128.7h0M118.6 142.4h0M121.6 129.4h0M121.3 162.1h0M124.5 104.1h0M117.2 163.4h0M115.6 169.0h0M108.9 101.4h0M113.4 148.2h0M121.1 107.1h0M117.6 139.5h0M121.7 94.4h0M109.9 148.1h0M109.4 162.3h0M118.2 88.6h0M120.7 105.9h0M109.8 145.6h0M121.6 127.1h0M109.8 164.9h0M118.3 136.5h0M110.5 100.5h0M117.2 148.1h0M120.9 143.7h0M116.5 154.6h0M117.4 152.8h0M118.1 129.6h0M121.6 164.6h0M123.6 159.7h0M110.2 130.2h0M111.2 130.0h0M118.1 104.9h0M111.7 127.9h0M110.0 163.1h0M119.6 100.6h0M117.5 171.8h0M124.2 108.6h0M109.3 146.2h0M114.4 170.7h0M122.7 158.4h0M118.9 96.7h0M116.1 169.8h0M109.3 169.0h0M120.7 113.3h0M116.6 165.5h0M114.4 162.5h0M109.6 107.0h0M111.7 127.9h0M111.0 155.4h0M118.5 136.8h0M113.1 163.2h0M121.6 157.7h0M121.5 130.2h0M123.2 122.6h0M110.4 161.1h0M124.2 106.6h0M123.6 129.0h0M110.2 163.8h0M120.6 107.7h0M124.4 101.2h0M123.5 139.4h0M121.0 167.0h0M112.4 152.7h0M116.0 129.0h0M114.4 165.7h0M121.7 107.3h0M117.1 171.4h0M119.2 96.1h0M114.1 165.2h0M123.6 92.0h0M118.3 145.2h0M119.1 149.0h0M123.3 121.4h0M115.1 112.6h0M110.6 145.0h0M122.0 113.6h0M124.3 150.2h0M119.9 112.6h0M118.7 123.7h0M119.8 100.6h0M117.7 138.0h0M116.5 163.1h0M112.2 100.8h0M110.0 123.4h0M114.5 148.9h0M115.5 149.1h0M115.3 171.6h0M110.8 107.0h0M112.9 164.1h0M117.2 153.5h0M110.7 141.4h0M123.7 145.5h0M110.6 139.1h0M117.0 151.8h0M121.8 111.8h0M113.1 144.9h0M124.0 167.1h0M122.0 144.4h0M119.5 115.6h0M121.4 104.1h0M113.5 166.0h0M121.9 149.3h0M119.3 136.8h0M113.2 149.9h0M122.6 118.6h0M123.9 135.0h0M121.8 148.4h0M111.2 154.3h0M113.4 148.1h0M123.5 143.7h0M109.3 136.3h0M116.1 153.3h0M114.9 137.7h0M113.2 113.7h0M115.4 165.4h0M114.7 99.0h0M120.5 98.2h0M114.9 112.6h0M114.2 142.4h0M114.5 170.0h0M121.6 136.1h0M109.4 162.5h0M118.8 148.3h0M110.8 112.2h0M110.1 101.2h0M123.6 152.2h0M114.3 118.2h0M109.5 169.3h0M110.0 112.2h0M113.7 140.5h0M123.2 163.8h0M120.0 92.5h0M114.4 97.7h0M109.4 130.8h0M111.1 164.8h0M109.6 150.1h0M123.7 168.2h0M115.3 169.9h0M114.0 117.5h0M118.9 129.6h0M114.1 120.1h0M116.5 173.1h0M112.8 109.3h0M111.1 123.5h0M121.4 123.1h0M114.4 142.7h0M120.9 139.3h0M110.8 95.1h0M112.2 91.0h0M113.4 82.4h0M118.1 90.0h0M113.7 81.7h0M114.5 92.4h0M120.9 73.4h0M113.0 90.9h0M92.3 143.2h0M98.8 151.6h0M100.4 153.8h0M104.2 154.4h0M94.1 146.6h0M95.6 158.8h0M108.6 150.2h0M94.5 155.2h0M101.6 161.6h0M100.5 143.1h0M94.4 151.5h0M107.0 166.4h0M89.6 137.6h0M106.0 167.6h0M108.4 153.1h0M108.4 165.6h0M108.3 166.0h0M99.4 160.8h0M102.4 163.9h0M91.6 144.1h0M103.3 162.3h0M108.5 166.5h0M94.7 143.9h0M89.6 138.6h0M104.3 158.7h0M97.8 137.9h0M107.9 161.7h0M105.9 153.7h0M101.0 141.8h0M107.2 151.8h0M103.7 150.7h0M106.1 154.8h0M104.3 151.3h0M108.2 168.2h0M106.1 166.7h0M91.0 139.0h0M94.8 156.1h0M106.4 161.7h0M102.9 140.8h0M103.1 160.9h0M104.2 163.1h0M107.4 157.6h0M104.5 164.1h0M97.8 145.9h0M107.0 162.2h0M101.8 161.6h0M98.9 137.9h0M107.8 146.6h0M105.8 155.4h0M108.6 145.3h0M104.1 150.8h0M98.9 146.9h0M106.1 164.4h0M105.2 143.8h0M99.0 168.7h0M104.4 162.5h0M100.7 165.4h0M108.6 160.1h0M107.6 151.9h0M94.6 154.6h0M108.4 166.3h0M107.7 154.9h0M108.4 141.6h0M108.6 140.9h0M108.6 161.5h0M106.7 165.2h0M108.2 157.6h0M106.5 162.4h0M99.1 167.6h0M108.6 143.9h0M107.4 159.1h0M98.2 147.6h0M103.3 166.9h0M108.5 168.6h0M108.3 153.7h0M99.9 164.9h0M97.6 145.9h0M105.0 165.9h0M100.5 168.4h0M104.7 151.0h0M102.9 159.1h0M101.6 166.1h0M96.0 139.7h0M101.4 168.6h0M89.8 140.0h0M108.2 167.9h0M106.8 155.3h0M102.3 162.6h0M105.5 160.9h0M97.3 146.7h0M108.5 138.9h0M98.2 159.4h0M100.5 163.4h0M97.4 158.8h0M96.2 154.5h0M108.5 146.8h0M107.1 158.4h0M103.7 153.1h0M103.7 160.3h0M98.9 164.7h0M106.9 146.3h0M102.6 163.9h0M98.7 154.0h0M108.3 139.8h0M105.2 161.7h0M94.8 158.1h0M102.0 156.2h0M99.4 168.1h0M102.7 165.9h0M107.7 157.6h0M94.0 144.7h0M106.8 158.4h0M106.9 163.1h0M104.7 153.7h0M108.2 164.1h0M108.1 150.2h0M94.5 141.3h0M107.9 152.0h0M103.4 148.0h0M100.4 155.3h0M103.5 160.3h0M106.9 141.5h0M104.4 168.3h0M108.5 161.0h0M105.5 158.6h0M105.3 159.5h0M105.4 140.6h0M108.4 161.2h0M100.4 167.8h0M107.4 145.7h0M95.4 157.0h0M108.2 158.1h0M92.4 149.2h0M98.3 156.0h0M101.0 146.0h0M108.4 161.9h0M100.2 146.8h0M107.8 140.1h0M97.2 161.7h0M101.2 157.3h0M102.2 140.9h0M101.2 168.6h0M98.3 138.9h0M105.6 159.6h0M108.0 158.1h0M96.7 152.4h0M97.7 151.0h0M108.4 153.6h0M108.5 164.6h0M105.1 145.5h0M96.6 158.5h0M104.1 151.4h0M100.8 166.4h0M103.2 165.2h0M105.9 158.3h0M96.4 145.9h0M103.1 165.7h0M103.2 151.7h0M101.1 160.6h0M101.8 140.4h0M98.6 166.9h0M107.9 145.8h0M100.2 156.2h0M106.3 149.3h0M95.8 154.1h0M100.3 147.4h0M108.6 155.4h0M104.7 161.6h0M103.6 163.2h0M100.1 138.7h0M101.8 150.9h0M106.6 155.2h0M104.7 147.3h0M108.2 165.4h0M99.4 156.2h0M103.4 167.3h0M108.3 142.2h0M99.8 144.0h0M108.6 145.3h0M100.6 157.6h0M104.6 162.3h0M104.7 149.2h0M108.6 152.5h0M106.3 165.5h0M104.8 159.2h0M97.8 148.6h0M100.0 160.7h0M108.1 138.6h0M107.7 143.6h0M106.0 168.5h0M92.6 138.7h0M108.1 155.8h0M99.9 156.5h0M105.8 165.8h0M102.8 163.9h0M98.0 150.7h0M105.1 160.8h0M103.1 168.0h0M107.9 156.1h0M96.8 158.5h0M104.6 163.4h0M97.1 162.6h0M108.6 165.3h0M97.5 165.0h0M98.8 157.7h0M107.6 165.3h0M104.4 142.9h0M101.6 164.9h0M98.3 143.9h0M98.1 159.5h0M102.2 166.8h0M104.2 149.0h0M101.6 154.5h0M99.6 143.1h0M93.1 138.9h0M91.6 143.4h0M101.7 165.7h0M94.1 151.7h0M101.6 159.7h0M105.9 150.2h0M95.5 144.4h0M100.0 145.8h0M105.7 166.0h0M98.1 147.2h0M108.7 140.6h0M97.6 156.5h0M108.2 153.8h0M103.5 167.0h0M105.8 163.9h0M106.0 155.5h0M130.3 155.5h0M138.7 145.7h0M138.4 153.0h0M124.7 167.6h0M125.4 168.2h0M139.3 152.8h0M124.8 159.5h0M124.7 162.7h0M125.4 162.9h0M127.6 161.9h0M125.2 167.5h0M129.8 168.6h0M142.4 145.4h0M138.1 142.7h0M134.2 160.7h0M131.1 159.2h0M129.4 155.3h0M125.2 142.6h0M132.5 140.5h0M127.6 165.2h0M125.0 139.0h0M124.6 168.1h0M126.2 144.0h0M128.9 155.9h0M125.3 158.3h0M131.4 152.9h0M133.7 160.0h0M124.9 152.1h0M127.3 148.1h0M135.3 149.4h0M126.7 167.7h0M125.5 155.7h0M126.0 162.2h0M124.6 164.1h0M125.9 160.3h0M132.0 148.3h0M130.6 157.3h0M127.7 160.8h0M124.7 158.3h0M134.6 158.2h0M125.4 147.0h0M135.1 140.8h0M125.7 138.8h0M132.6 150.8h0M126.6 168.2h0M138.4 143.9h0M125.7 165.9h0M129.2 162.9h0M132.9 163.7h0M125.3 149.0h0M125.0 144.9h0M125.8 143.2h0M124.6 153.1h0M125.6 159.2h0M135.6 138.7h0M136.3 142.8h0M128.4 166.1h0M126.8 158.6h0M131.1 165.0h0M125.2 159.3h0M130.6 168.0h0M124.9 141.6h0M128.5 160.7h0M129.6 146.7h0M136.6 145.7h0M132.4 155.3h0M124.9 145.1h0M126.4 152.3h0M135.1 161.0h0M125.1 140.3h0M135.9 142.7h0M126.9 156.8h0M135.8 157.5h0M128.8 155.6h0M125.0 149.2h0M130.4 168.3h0M134.0 156.5h0M124.8 142.6h0M126.4 160.8h0M126.3 140.9h0M131.0 154.9h0M127.6 139.1h0M137.6 138.4h0M129.2 143.3h0M124.6 146.0h0M127.4 148.7h0M134.6 162.0h0M126.5 167.6h0M139.4 152.8h0M125.1 148.9h0M135.2 150.7h0M130.6 147.0h0M127.1 159.9h0M124.6 141.4h0M125.9 152.3h0M125.2 162.5h0M134.2 162.0h0M138.6 137.8h0M125.2 138.7h0M126.0 138.6h0M126.2 161.9h0M135.9 155.5h0M125.1 142.9h0M132.7 144.0h0M134.3 138.4h0M128.3 156.1h0M124.6 139.9h0M129.9 139.1h0M133.8 165.5h0M126.7 142.8h0M126.4 154.5h0M131.5 158.3h0M125.4 142.7h0M125.1 163.0h0M125.0 142.9h0M125.0 154.8h0M124.8 158.4h0M133.0 162.1h0M132.2 148.2h0M126.3 157.6h0M126.5 167.2h0M126.3 142.9h0M124.5 161.8h0M125.0 145.8h0M124.6 163.5h0M125.1 149.9h0M131.4 148.1h0M127.5 139.7h0M138.2 152.5h0M133.8 149.8h0M134.4 164.1h0M131.5 155.3h0M127.1 144.5h0M129.7 138.0h0M129.2 144.2h0M130.1 152.4h0M127.3 157.0h0M130.9 167.0h0M141.8 142.0h0M129.5 168.4h0M129.6 167.9h0M130.5 139.7h0M129.0 165.2h0M132.1 142.2h0M129.2 150.1h0M127.5 162.0h0M124.5 147.9h0M132.7 164.9h0M126.8 160.7h0M124.9 165.1h0M129.7 151.2h0M130.4 155.9h0M128.6 164.5h0M125.3 165.5h0M125.8 157.6h0M128.1 158.2h0M124.9 148.4h0M126.9 149.6h0M124.8 161.4h0M124.6 154.0h0M126.2 162.8h0M129.4 138.2h0M136.5 154.2h0M131.8 151.4h0M124.8 157.7h0M124.7 162.3h0M124.8 151.8h0M125.9 154.9h0M129.7 168.7h0M128.1 167.9h0M135.5 155.6h0M125.0 156.5h0M128.1 156.2h0M125.3 166.3h0M125.3 163.0h0M126.7 143.8h0M124.6 147.4h0M140.4 137.7h0M124.7 155.3h0M131.9 154.1h0M124.5 159.5h0M130.0 159.3h0M127.8 166.1h0M133.0 144.0h0M135.7 144.5h0M128.5 141.7h0M140.7 147.8h0M141.9 147.4h0M127.7 139.2h0M125.7 164.5h0M124.7 165.2h0M137.7 155.3h0M133.7 139.7h0M126.8 138.3h0M134.4 163.9h0M126.7 141.2h0M125.1 145.7h0M126.6 139.5h0M136.2 162.7h0M125.3 167.2h0M129.6 137.6h0M130.3 156.7h0M124.6 167.5h0M136.4 156.7h0M138.7 140.9h0M129.1 142.1h0M132.7 145.2h0M124.6 163.2h0M128.6 146.6h0M143.4 140.8h0M124.8 153.5h0M127.9 158.5h0M127.0 161.0h0M134.6 147.9h0M125.1 146.9h0M129.4 138.8h0M131.7 168.0h0M137.7 159.4h0M133.9 164.0h0M124.7 145.5h0M124.7 147.0h0M125.9 165.1h0M128.9 146.6h0M133.5 166.5h0M124.8 158.1h0M135.4 156.5h0M136.5 152.0h0M134.7 142.3h0M125.5 165.2h0M128.5 163.2h0M108.8 51.0h0M112.0 55.4h0M110.5 61.3h0M111.7 66.1h0M121.2 58.8h0M120.8 78.9h0M111.0 80.5h0M112.5 83.0h0M113.5 86.0h0M111.5 87.5h0M120.0 88.0h0M121.5 90.5h0M122.8 92.5h0M119.5 94.0h0M42.8 140.0h0M46.8 147.5h0M49.6 147.5h0M58.4 147.1h0M59.9 147.1h0M65.2 147.1h0M66.4 149.3h0M62.7 150.8h0M63.3 151.4h0M69.5 150.8h0M70.7 148.6h0M53.0 155.9h0M62.1 156.6h0M74.1 154.2h0M79.8 149.6h0M80.5 152.6h0M83.9 144.9h0M85.1 140.8h0M84.7 154.4h0M87.8 152.0h0M87.8 157.9h0M86.0 163.6h0M177.9 141.0h0M137.3 142.8h0M137.9 145.6h0M138.6 148.6h0M140.4 148.6h0M144.7 148.6h0M147.1 148.3h0M155.3 149.2h0M166.6 147.3h0M164.0 150.8h0M164.8 150.2h0M168.8 150.8h0M175.8 147.7h0M175.8 149.3h0M180.1 147.3h0M183.1 149.8h0M177.4 152.0h0M189.9 147.1h0M147.7 152.6h0M153.8 153.2h0M153.2 156.3h0M155.0 156.9h0M138.6 157.5h0M142.2 157.5h0M145.9 159.3h0M143.4 160.5h0M148.9 158.7h0M148.9 161.5h0M139.0 163.5h0M141.5 164.5h0M144.0 164.0h0M146.0 164.8h0M41.6 161.5h0M59.1 161.5h0M62.7 161.5h0M64.3 161.5h0M65.9 161.5h0M67.6 161.5h0M71.9 161.5h0M76.8 161.5h0M78.4 161.5h0M80.0 161.5h0M81.6 161.5h0M83.2 161.5h0M84.8 161.5h0M86.4 161.5h0M88.0 161.5h0M89.6 161.5h0M91.2 161.5h0M92.7 161.5h0M153.2 161.5h0M154.8 161.5h0M156.4 161.5h0M158.0 161.5h0M159.6 161.5h0M161.2 161.5h0M163.0 161.5h0M169.1 161.5h0M170.3 161.5h0M171.5 161.5h0M174.6 161.5h0M176.0 161.5h0M177.5 161.5h0M178.9 161.5h0M185.6 161.5h0" stroke="#999999" stroke-width="2.3" stroke-linecap="round" fill="none"/>
<path d="M104.4 127.5h0M99.2 131.1h0M103.4 132.4h0M103.4 124.2h0M104.5 124.7h0M106.6 100.5h0M102.7 135.7h0M104.8 136.3h0M96.9 130.5h0M96.1 130.2h0M107.6 134.3h0M99.2 120.7h0M106.9 107.9h0M103.5 135.1h0M107.1 114.9h0M106.1 118.4h0M94.2 133.1h0M95.8 132.3h0M96.1 134.4h0M108.1 118.5h0M95.8 136.0h0M99.0 133.4h0M106.3 128.8h0M106.1 129.5h0M102.9 116.7h0M106.8 132.3h0M105.4 121.3h0M106.8 126.7h0M103.8 117.6h0M106.1 118.1h0M102.2 114.8h0M104.6 136.2h0M107.1 127.0h0M106.7 132.1h0M96.1 133.1h0M107.3 135.0h0M103.6 107.0h0M99.1 136.4h0M105.7 117.5h0M107.7 119.2h0M100.4 128.6h0M102.8 135.7h0M103.4 124.9h0M100.5 126.5h0M101.5 126.1h0M97.4 128.4h0M101.5 134.8h0M107.2 121.7h0M105.9 125.8h0M101.3 124.3h0M102.3 129.1h0M102.4 134.4h0M107.2 101.7h0M102.2 123.9h0M105.0 123.3h0M102.2 121.8h0M107.3 113.0h0M107.5 122.3h0M101.9 135.6h0M105.2 126.1h0M104.5 104.1h0M105.9 106.3h0M102.7 119.0h0M107.0 131.1h0M98.3 122.7h0M99.0 135.4h0M97.2 136.1h0M108.0 127.7h0M103.1 131.4h0M107.7 116.0h0M102.3 131.2h0M103.3 114.6h0M96.3 124.5h0M106.8 124.1h0M103.3 132.8h0M106.1 103.4h0M107.3 105.0h0M106.4 132.8h0M106.1 130.7h0M104.0 108.1h0M103.3 121.1h0M107.9 121.9h0M105.8 112.0h0M103.3 109.5h0M102.2 133.1h0M100.7 126.6h0M106.3 131.3h0M103.8 131.4h0M106.5 121.7h0M105.7 117.8h0M107.7 128.1h0M101.1 126.8h0M99.8 132.9h0M103.5 122.2h0M102.5 114.7h0M105.1 118.6h0M99.3 132.3h0M106.1 130.0h0M104.7 107.0h0M106.6 132.1h0M104.8 109.7h0M102.5 122.6h0M105.4 136.4h0M106.2 100.3h0M104.2 131.5h0M107.7 123.2h0M101.7 125.4h0M107.8 116.1h0M104.7 111.9h0M107.3 129.0h0M93.3 131.6h0M107.0 107.2h0M107.2 119.5h0M99.8 133.8h0M106.0 113.6h0M106.8 133.8h0M103.4 121.7h0M107.1 126.7h0M101.3 132.7h0M105.3 107.7h0M105.3 117.9h0M106.7 111.1h0M107.2 103.7h0M106.9 129.6h0M98.5 127.3h0M106.8 126.5h0M107.0 120.9h0M107.1 100.2h0M107.5 97.5h0M107.8 122.0h0M104.5 110.8h0M107.0 114.3h0M100.2 122.3h0M106.3 126.1h0M101.5 132.0h0M102.4 118.2h0M106.1 113.6h0M107.0 135.5h0M105.3 122.5h0M103.2 124.8h0M100.4 124.8h0M105.8 109.9h0M94.2 136.1h0M104.6 125.4h0M106.6 125.5h0M100.0 132.0h0M102.8 124.2h0M100.7 115.9h0M105.2 127.4h0M104.3 116.6h0M104.0 127.5h0M98.7 125.6h0M104.4 114.1h0M103.4 123.1h0M101.4 116.0h0M99.6 115.2h0M99.6 121.2h0M102.2 120.0h0M103.0 119.9h0M104.1 128.4h0M101.3 126.7h0M100.3 114.7h0M107.8 124.2h0M104.8 110.9h0M106.2 122.8h0M105.7 106.2h0M95.4 127.0h0M107.1 99.3h0M107.2 103.6h0M106.1 120.9h0M102.8 125.0h0M104.1 114.7h0M105.9 116.9h0M106.0 107.6h0M105.7 127.1h0M69.6 74.7h0M93.3 69.2h0M94.5 76.9h0M107.3 59.8h0M107.3 70.0h0M105.8 86.2h0M102.9 90.6h0M105.8 90.6h0M93.7 95.3h0M94.9 95.0h0M96.2 95.4h0M100.0 96.0h0M97.0 101.5h0M76.5 109.0h0M83.0 113.3h0M85.5 113.9h0M95.7 116.2h0M81.0 121.7h0M86.5 123.0h0M57.5 125.0h0M54.2 129.5h0M56.5 129.5h0M58.9 129.5h0M86.5 128.5h0M59.0 134.0h0M67.3 132.9h0M49.7 134.8h0M85.3 134.0h0M87.9 135.4h0M49.3 134.6h0M67.6 132.4h0" stroke="#3363b0" stroke-width="2.3" stroke-linecap="round" fill="none"/>
<path d="M132.8 111.0h0M139.5 126.0h0M132.0 132.3h0M137.0 120.0h0M134.6 128.6h0M125.8 117.2h0M130.4 101.9h0M126.8 85.7h0M126.9 96.1h0M126.8 129.7h0M126.2 88.3h0M135.2 135.3h0M131.9 115.2h0M128.0 135.9h0M133.6 125.0h0M127.8 108.1h0M130.6 117.1h0M139.9 136.0h0M137.4 122.9h0M140.7 129.4h0M134.4 132.6h0M134.6 123.4h0M129.0 93.1h0M140.0 136.5h0M127.7 104.8h0M127.0 129.4h0M134.0 103.4h0M126.6 90.5h0M131.4 110.9h0M133.7 131.5h0M129.7 123.6h0M127.6 133.9h0M128.0 119.0h0M132.4 131.9h0M130.5 129.9h0M128.5 112.5h0M134.6 106.3h0M128.3 104.8h0M132.0 97.7h0M125.4 124.3h0M125.5 86.9h0M129.4 113.1h0M132.1 113.1h0M132.9 123.6h0M134.3 133.7h0M128.0 127.3h0M134.7 131.5h0M132.2 129.6h0M129.3 120.5h0M130.2 121.4h0M127.9 129.7h0M137.5 112.8h0M137.0 135.0h0M132.8 124.3h0M126.3 88.5h0M134.4 126.8h0M136.1 123.6h0M126.5 95.4h0M125.6 104.1h0M131.8 113.8h0M125.6 85.1h0M136.6 110.4h0M127.1 103.6h0M131.8 131.2h0M126.9 87.8h0M135.9 124.0h0M127.0 119.3h0M129.1 105.0h0M135.5 131.1h0M125.6 87.6h0M130.8 98.6h0M126.9 93.0h0M137.6 122.7h0M128.8 124.0h0M130.2 121.9h0M131.1 124.3h0M126.5 129.4h0M136.0 127.7h0M126.3 125.2h0M127.6 120.4h0M125.3 90.8h0M129.7 97.7h0M128.8 118.1h0M133.6 114.9h0M138.6 125.5h0M129.0 100.7h0M126.0 88.1h0M125.9 93.8h0M130.3 126.2h0M129.6 118.1h0M125.1 115.5h0M129.3 92.6h0M126.7 90.1h0M126.7 107.7h0M136.6 119.9h0M134.9 136.4h0M128.3 114.0h0M134.2 112.9h0M125.6 93.7h0M131.1 107.7h0M131.2 99.5h0M127.5 89.3h0M127.3 132.9h0M129.9 133.7h0M129.0 106.7h0M135.4 117.7h0M125.8 124.7h0M129.9 124.2h0M125.7 114.7h0M137.9 128.0h0M127.7 127.2h0M133.8 106.5h0M128.1 95.0h0M132.4 132.7h0M131.2 108.8h0M129.5 130.5h0M132.0 130.7h0M141.5 135.9h0M126.3 103.8h0M145.5 132.6h0M135.7 130.3h0M125.1 128.0h0M129.1 132.4h0M127.6 104.3h0M128.7 114.2h0M134.4 133.6h0M125.2 134.7h0M137.6 126.2h0M125.5 134.3h0M132.5 103.8h0M136.5 119.1h0M137.5 135.1h0M133.6 131.6h0M129.6 126.4h0M127.6 127.5h0M125.8 114.4h0M127.7 105.9h0M125.4 133.3h0M130.8 116.1h0M128.9 105.0h0M127.6 128.7h0M140.4 134.7h0M129.8 119.9h0M126.1 131.3h0M129.3 111.6h0M128.3 122.9h0M128.3 132.4h0M133.7 129.0h0M140.2 123.4h0M135.6 108.6h0M129.8 120.4h0M133.4 133.6h0M136.5 132.4h0M134.7 108.4h0M128.1 96.1h0M138.5 120.6h0M139.7 127.9h0M127.7 105.2h0M129.5 124.5h0M133.6 128.4h0M128.9 96.7h0M133.8 129.6h0M136.2 132.1h0M126.6 100.8h0M127.8 112.7h0M125.9 99.0h0M125.2 96.1h0M129.6 102.0h0M128.0 110.9h0M141.0 123.7h0M127.2 34.3h0M125.2 53.2h0M129.3 59.0h0M128.4 64.6h0M138.4 66.4h0M134.7 70.0h0M127.4 74.8h0M134.7 75.2h0M129.6 77.4h0M133.3 77.8h0M126.4 80.3h0M128.4 81.0h0M130.3 83.7h0M158.6 62.8h0M174.8 84.0h0M144.7 88.2h0M133.7 89.0h0M169.9 95.8h0M170.9 97.0h0M139.8 96.8h0M141.0 98.2h0M138.6 104.1h0M140.3 104.1h0M139.3 111.0h0M161.8 117.8h0M171.1 119.5h0M147.6 120.8h0M136.1 117.8h0M138.6 118.8h0M150.8 124.4h0M155.7 125.7h0M167.9 125.7h0M174.8 124.4h0M188.0 126.6h0M160.1 133.0h0M144.7 130.6h0M147.1 130.0h0" stroke="#d9435e" stroke-width="2.3" stroke-linecap="round" fill="none"/>
</g>
</g>
<rect x="33.5" y="27.3" width="166.1" height="152.7" fill="none" stroke="#c4c4c4" stroke-width="1.2"/><g font-family="Liberation Sans, sans-serif" font-size="4.8" fill="#333" text-anchor="end"><text x="32" y="174.9">0</text><text x="32" y="147.1">1</text><text x="32" y="119.3">2</text><text x="32" y="91.5">3</text><text x="32" y="63.7">4</text><text x="32" y="35.9">5</text></g><g font-family="Liberation Sans, sans-serif" font-size="4.8" fill="#333" text-anchor="middle"><text x="34.4" y="186.4">−6</text><text x="75.5" y="186.4">−3</text><text x="116.6" y="186.4">0</text><text x="157.7" y="186.4">3</text><text x="198.8" y="186.4">6</text></g><text x="116.5" y="196.3" font-family="Liberation Sans, sans-serif" font-size="7" font-weight="bold" text-anchor="middle" fill="#111">log2(FC)</text><text transform="translate(21.3 103.9) rotate(-90)" font-family="Liberation Sans, sans-serif" font-size="7.2" font-weight="bold" text-anchor="middle" fill="#111">-log10(pVal)</text><path d="M108.7 27.3V180M124.5 27.3V180M33.5 137.1H199.6" stroke="#444" stroke-width="0.7" stroke-dasharray="1.8 1.85" fill="none"/><text x="204.7" y="92.9" font-family="Liberation Sans, sans-serif" font-size="5.3" font-weight="bold" fill="#111">Significant</text><circle cx="208" cy="100.7" r="1.5" fill="#d9435e"/><circle cx="208" cy="107.8" r="1.5" fill="#999999"/><circle cx="208" cy="115" r="1.5" fill="#3363b0"/><g font-family="Liberation Sans, sans-serif" font-size="5.3" fill="#333"><text x="213.9" y="102.6">Sig_Up</text><text x="213.9" y="109.7">NoDiff</text><text x="213.9" y="116.9">Sig_Down</text></g><text x="80.2" y="104.6" font-family="Liberation Sans, sans-serif" font-size="5.3" fill="#333">HGF</text><path d="M91 102.2H93.3V97.6" stroke="#555" stroke-width="0.5" fill="none"/><circle cx="94.8" cy="95.4" r="2" fill="none" stroke="#777" stroke-width="0.5"/>

<circle cx="322.5" cy="125" r="56" fill="rgb(198,232,240)"/>
<circle cx="378.6" cy="125" r="56" fill="rgb(246,196,192)"/>
<circle cx="378.6" cy="125" r="56" fill="rgb(210,180,184)" clip-path="url(#cl)"/>
<g font-family="Liberation Serif, serif" font-size="12.6">
<text x="269.2" y="63.2" fill="#A2DAE8">Sig_Down</text>
<text x="385.4" y="63.2" fill="#E07A88">Sig_Up</text>
</g>
<g font-family="Liberation Serif, serif" font-size="12.7" fill="#222" text-anchor="middle">
<text x="295.6" y="125.7">159</text><text x="350.9" y="125.7">7461</text><text x="405.1" y="125.7">146</text>
</g>


<rect x="522.3" y="18" width="50" height="6.7" fill="#FF0000"/>
<rect x="572.3" y="18" width="50" height="6.7" fill="#00FF00"/>
<rect x="522.30" y="27.10" width="16.97" height="11.03" fill="#F98E52"/><rect x="538.97" y="27.10" width="16.97" height="11.03" fill="#F46D43"/><rect x="555.63" y="27.10" width="16.97" height="11.03" fill="#FA9B58"/><rect x="572.30" y="27.10" width="16.97" height="11.03" fill="#74ADD1"/><rect x="588.97" y="27.10" width="16.97" height="11.03" fill="#3A56A6"/><rect x="605.63" y="27.10" width="16.97" height="11.03" fill="#3A56A6"/><rect x="522.30" y="37.83" width="16.97" height="11.03" fill="#FDC474"/><rect x="538.97" y="37.83" width="16.97" height="11.03" fill="#D73027"/><rect x="555.63" y="37.83" width="16.97" height="11.03" fill="#FDC070"/><rect x="572.30" y="37.83" width="16.97" height="11.03" fill="#313695"/><rect x="588.97" y="37.83" width="16.97" height="11.03" fill="#74ADD1"/><rect x="605.63" y="37.83" width="16.97" height="11.03" fill="#5B8EC4"/><rect x="522.30" y="48.57" width="16.97" height="11.03" fill="#FEE79A"/><rect x="538.97" y="48.57" width="16.97" height="11.03" fill="#DB3A2B"/><rect x="555.63" y="48.57" width="16.97" height="11.03" fill="#F88B4E"/><rect x="572.30" y="48.57" width="16.97" height="11.03" fill="#4A7BB7"/><rect x="588.97" y="48.57" width="16.97" height="11.03" fill="#4A7BB7"/><rect x="605.63" y="48.57" width="16.97" height="11.03" fill="#4A7BB7"/><rect x="522.30" y="59.30" width="16.97" height="11.03" fill="#FDBE6E"/><rect x="538.97" y="59.30" width="16.97" height="11.03" fill="#E8F5F0"/><rect x="555.63" y="59.30" width="16.97" height="11.03" fill="#A50026"/><rect x="572.30" y="59.30" width="16.97" height="11.03" fill="#74ADD1"/><rect x="588.97" y="59.30" width="16.97" height="11.03" fill="#3B5EA8"/><rect x="605.63" y="59.30" width="16.97" height="11.03" fill="#6CA3CE"/><rect x="522.30" y="70.03" width="16.97" height="11.03" fill="#FEE8A0"/><rect x="538.97" y="70.03" width="16.97" height="11.03" fill="#FDBD6D"/><rect x="555.63" y="70.03" width="16.97" height="11.03" fill="#C21F2A"/><rect x="572.30" y="70.03" width="16.97" height="11.03" fill="#4B7DB8"/><rect x="588.97" y="70.03" width="16.97" height="11.03" fill="#5B8EC4"/><rect x="605.63" y="70.03" width="16.97" height="11.03" fill="#4575B4"/><rect x="522.30" y="80.77" width="16.97" height="11.03" fill="#EEF6E6"/><rect x="538.97" y="80.77" width="16.97" height="11.03" fill="#F88B4E"/><rect x="555.63" y="80.77" width="16.97" height="11.03" fill="#CD2227"/><rect x="572.30" y="80.77" width="16.97" height="11.03" fill="#4270B2"/><rect x="588.97" y="80.77" width="16.97" height="11.03" fill="#3A56A6"/><rect x="605.63" y="80.77" width="16.97" height="11.03" fill="#A7D2E6"/><rect x="522.30" y="91.50" width="16.97" height="11.03" fill="#4E80BB"/><rect x="538.97" y="91.50" width="16.97" height="11.03" fill="#4E80BB"/><rect x="555.63" y="91.50" width="16.97" height="11.03" fill="#4E80BB"/><rect x="572.30" y="91.50" width="16.97" height="11.03" fill="#FDBB6C"/><rect x="588.97" y="91.50" width="16.97" height="11.03" fill="#FEFCCB"/><rect x="605.63" y="91.50" width="16.97" height="11.03" fill="#B20C28"/><rect x="522.30" y="102.23" width="16.97" height="11.03" fill="#91BFDB"/><rect x="538.97" y="102.23" width="16.97" height="11.03" fill="#91BFDB"/><rect x="555.63" y="102.23" width="16.97" height="11.03" fill="#3547A0"/><rect x="572.30" y="102.23" width="16.97" height="11.03" fill="#DA3A2B"/><rect x="588.97" y="102.23" width="16.97" height="11.03" fill="#EF5F3E"/><rect x="605.63" y="102.23" width="16.97" height="11.03" fill="#C5E3EE"/><rect x="522.30" y="112.97" width="16.97" height="11.03" fill="#4068B0"/><rect x="538.97" y="112.97" width="16.97" height="11.03" fill="#5A8DC3"/><rect x="555.63" y="112.97" width="16.97" height="11.03" fill="#5A8DC3"/><rect x="572.30" y="112.97" width="16.97" height="11.03" fill="#FBA85F"/><rect x="588.97" y="112.97" width="16.97" height="11.03" fill="#D32F28"/><rect x="605.63" y="112.97" width="16.97" height="11.03" fill="#FEE295"/><rect x="522.30" y="123.70" width="16.97" height="11.03" fill="#4068B0"/><rect x="538.97" y="123.70" width="16.97" height="11.03" fill="#6FA6D0"/><rect x="555.63" y="123.70" width="16.97" height="11.03" fill="#4A75B5"/><rect x="572.30" y="123.70" width="16.97" height="11.03" fill="#E64D35"/><rect x="588.97" y="123.70" width="16.97" height="11.03" fill="#FED98B"/><rect x="605.63" y="123.70" width="16.97" height="11.03" fill="#F98B4F"/><rect x="522.30" y="134.43" width="16.97" height="11.03" fill="#5A8DC3"/><rect x="538.97" y="134.43" width="16.97" height="11.03" fill="#4B77B6"/><rect x="555.63" y="134.43" width="16.97" height="11.03" fill="#4A72B4"/><rect x="572.30" y="134.43" width="16.97" height="11.03" fill="#F0603F"/><rect x="588.97" y="134.43" width="16.97" height="11.03" fill="#FBA35D"/><rect x="605.63" y="134.43" width="16.97" height="11.03" fill="#FBA55E"/><rect x="522.30" y="145.17" width="16.97" height="11.03" fill="#9CCAE2"/><rect x="538.97" y="145.17" width="16.97" height="11.03" fill="#313695"/><rect x="555.63" y="145.17" width="16.97" height="11.03" fill="#5A8DC3"/><rect x="572.30" y="145.17" width="16.97" height="11.03" fill="#D73027"/><rect x="588.97" y="145.17" width="16.97" height="11.03" fill="#FEFCC0"/><rect x="605.63" y="145.17" width="16.97" height="11.03" fill="#F98B4F"/><rect x="522.30" y="155.90" width="16.97" height="11.03" fill="#A6D3E8"/><rect x="538.97" y="155.90" width="16.97" height="11.03" fill="#313695"/><rect x="555.63" y="155.90" width="16.97" height="11.03" fill="#6AA0CC"/><rect x="572.30" y="155.90" width="16.97" height="11.03" fill="#BE1428"/><rect x="588.97" y="155.90" width="16.97" height="11.03" fill="#F2F8DA"/><rect x="605.63" y="155.90" width="16.97" height="11.03" fill="#FDB366"/><rect x="522.30" y="166.63" width="16.97" height="11.03" fill="#A6D3E8"/><rect x="538.97" y="166.63" width="16.97" height="11.03" fill="#313695"/><rect x="555.63" y="166.63" width="16.97" height="11.03" fill="#6AA0CC"/><rect x="572.30" y="166.63" width="16.97" height="11.03" fill="#A8002A"/><rect x="588.97" y="166.63" width="16.97" height="11.03" fill="#FEE197"/><rect x="605.63" y="166.63" width="16.97" height="11.03" fill="#FEED9E"/><rect x="522.30" y="177.37" width="16.97" height="11.03" fill="#79AED3"/><rect x="538.97" y="177.37" width="16.97" height="11.03" fill="#3B55A5"/><rect x="555.63" y="177.37" width="16.97" height="11.03" fill="#4569B0"/><rect x="572.30" y="177.37" width="16.97" height="11.03" fill="#D42F28"/><rect x="588.97" y="177.37" width="16.97" height="11.03" fill="#FDCC7E"/><rect x="605.63" y="177.37" width="16.97" height="11.03" fill="#FEDE8F"/>
<path d="M522.3 43.2H517.3V53.9H522.3M522.3 32.5H514.6V48.6H517.3M522.3 75.4H517.3V86.1H522.3M522.3 64.7H512.2V80.8H517.3M514.6 40.5H507.8V72.7H512.2M522.3 150.5H519.9V161.3H522.3M522.3 172.0H519.0V182.7H522.3M519.9 155.9H516.4V177.4H519.0M522.3 129.1H518.2V139.8H522.3M518.2 134.4H513.5V166.6H516.4M522.3 107.6H513.4V118.3H522.3M513.4 113.0H508.7V150.5H513.5M522.3 96.9H504.3V131.8H508.7M507.8 56.6H486.6V114.3H504.3" stroke="#555" stroke-width="0.8" fill="none"/>
<g font-family="Liberation Sans, sans-serif" font-size="5.2" fill="#222"><text x="625" y="34.4">IL1B</text><text x="625" y="45.1">HGF</text><text x="625" y="55.8">IL1R1</text><text x="625" y="66.6">LUM</text><text x="625" y="77.3">ADAMTS1</text><text x="625" y="88.0">GCA</text><text x="625" y="98.8">WNT5B</text><text x="625" y="109.5">BGN</text><text x="625" y="120.2">VCAN</text><text x="625" y="131.0">FBLN5</text><text x="625" y="141.7">CCN2</text><text x="625" y="152.4">IGFBP7</text><text x="625" y="163.2">COL4A1</text><text x="625" y="173.9">GPC4</text><text x="625" y="184.6">COL4A2</text></g>
<text x="625" y="23.8" font-family="Liberation Sans, sans-serif" font-size="6.5" font-weight="bold" fill="#111">Group</text>
<rect x="655" y="17.3" width="6" height="100.7" fill="url(#cb)"/>
<g font-family="Liberation Sans, sans-serif" font-size="6.6" fill="#222">
<text x="664.2" y="24">1.5</text><text x="664.2" y="41.9">1</text><text x="664.2" y="60.6">0.5</text>
<text x="664.2" y="78.4">0</text><text x="664.2" y="96.9">−0.5</text><text x="664.2" y="114.5">−1</text>
</g>

<text x="125.6" y="261.8" font-family="Liberation Serif, serif" font-size="12.2" fill="#222">TGF-β1</text><path d="M71.2 273.4H218.2" stroke="#333" stroke-width="0.9"/><g font-family="Liberation Serif, serif" font-size="12.4" fill="#222" text-anchor="middle"><text x="84.9" y="293.2">0</text><text x="120.0" y="293.2">5</text><text x="146" y="293.2">10</text><text x="175" y="293.2">20</text><text x="201.6" y="293.2">50</text></g><text x="209.8" y="293.1" font-family="Liberation Serif, serif" font-size="12.1" fill="#222">(ng/mL)</text><g font-family="Liberation Serif, serif" font-size="11.6" fill="#222" text-anchor="end"><text x="63" y="314.7">HGF</text><text x="63.6" y="331.2" textLength="49.4" lengthAdjust="spacingAndGlyphs">β-Tubulin</text></g><rect x="71" y="302.3" width="148.2" height="16" fill="#ebebeb" stroke="#b9b9b9" stroke-width="0.9"/><rect x="71" y="320" width="148.2" height="15.7" fill="#ebebeb" stroke="#b9b9b9" stroke-width="0.9"/><g filter="url(#bl)"><rect x="74.6" y="307.7" width="25.2" height="6.2" rx="3" fill="#080808"/><rect x="107" y="308.3" width="21.8" height="5" rx="2.4" fill="url(#l2)"/><rect x="136.3" y="308.6" width="21" height="4" rx="1.8" fill="url(#l3)"/><rect x="165" y="308.6" width="21" height="4" rx="1.8" fill="url(#l4)"/><rect x="194.6" y="308.8" width="20" height="3.6" rx="1.6" fill="url(#l5)"/><path d="M72.2 326.1Q84.7 327.5 97.2 325.9V329.3Q84.7 329.9 72.2 329.5Z" fill="#262626"/><path d="M104.7 326.1Q115.8 327.5 127 325.9V329.3Q115.8 329.9 104.7 329.5Z" fill="#262626"/><path d="M132.8 326.1Q144.5 327.5 156.2 325.9V329.3Q144.5 329.9 132.8 329.5Z" fill="#262626"/><path d="M162 326.1Q173.7 327.5 185.4 325.9V329.3Q173.7 329.9 162 329.5Z" fill="#262626"/><path d="M191.2 326.1Q202.9 327.5 214.6 325.9V329.3Q202.9 329.9 191.2 329.5Z" fill="#262626"/></g>
<path d="M300 232.8V365.6H417.8" stroke="#444" stroke-width="1.1" fill="none"/><path d="M294.3 365.6H300M294.3 332.4H300M294.3 299.2H300M294.3 265.9H300M294.3 232.7H300M314.6 365.6V371.2M336.7 365.6V371.2M358.7 365.6V371.2M381.0 365.6V371.2M403.4 365.6V371.2" stroke="#444" stroke-width="1.1" fill="none"/><path d="M314.6 269.9V266.9M311.1 266.9H318.1" stroke="#333" stroke-width="0.9"/><rect x="307.3" y="269.9" width="14.6" height="95.7" fill="#000000" stroke="#222" stroke-width="0.8"/><path d="M336.7 298.8V295.8M333.2 295.8H340.2" stroke="#333" stroke-width="0.9"/><rect x="329.4" y="298.8" width="14.6" height="66.8" fill="#A3A3AB" stroke="#222" stroke-width="0.8"/><path d="M358.7 324.4V323.7M355.2 323.7H362.2" stroke="#333" stroke-width="0.9"/><rect x="351.4" y="324.4" width="14.6" height="41.2" fill="#6D6D6D" stroke="#222" stroke-width="0.8"/><path d="M381.0 328.9V328.1M377.5 328.1H384.5" stroke="#333" stroke-width="0.9"/><rect x="373.7" y="328.9" width="14.6" height="36.7" fill="#D4D4D4" stroke="#222" stroke-width="0.8"/><path d="M403.4 337.7V336.2M399.9 336.2H406.9" stroke="#333" stroke-width="0.9"/><rect x="396.1" y="337.7" width="14.6" height="27.9" fill="#555555" stroke="#222" stroke-width="0.8"/><g font-family="Liberation Serif, serif" font-size="11" fill="#222" text-anchor="end"><text x="292.4" y="369.4">0.0</text><text x="292.4" y="336.2">0.5</text><text x="292.4" y="303.0">1.0</text><text x="292.4" y="269.7">1.5</text><text x="292.4" y="236.5">2.0</text></g><g font-family="Liberation Serif, serif" font-size="10.4" fill="#222" text-anchor="middle"><text x="314.6" y="381.9">0</text><text x="336.7" y="381.9">5</text><text x="358.7" y="381.9">10</text><text x="381.0" y="381.9">20</text><text x="403.4" y="381.9">50</text></g><text x="413.2" y="380.3" font-family="Liberation Serif, serif" font-size="11.5" fill="#222">(ng/mL)</text><path d="M335.5 289.5H409" stroke="#444" stroke-width="0.9"/><text x="372" y="290" font-family="Liberation Serif, serif" font-size="11.5" text-anchor="middle" fill="#222">*</text><text transform="translate(271.4 299) rotate(-90)" font-family="Liberation Serif, serif" font-size="10.8" text-anchor="middle" fill="#222">HGF/β-Tubulin</text>
<path d="M508.4 222.5V370.9H656" stroke="#444" stroke-width="1.1" fill="none"/><path d="M502.5 370.9H508.4M502.5 321.5H508.4M502.5 272.2H508.4M502.5 222.8H508.4M526.9 370.9V376.3M554.6 370.9V376.3M582.4 370.9V376.3M610.1 370.9V376.3M637.7 370.9V376.3" stroke="#444" stroke-width="1.1" fill="none"/><path d="M526.9 249.4V247.0M522.1999999999999 247.0H531.6" stroke="#333" stroke-width="1"/><rect x="517.9" y="249.4" width="18" height="121.5" fill="#767676" stroke="#222" stroke-width="0.8"/><path d="M554.6 312.7V310.4M549.9 310.4H559.3000000000001" stroke="#333" stroke-width="1"/><rect x="545.6" y="312.7" width="18" height="58.2" fill="#A5A5AD" stroke="#222" stroke-width="0.8"/><path d="M582.4 326.1V324.0M577.6999999999999 324.0H587.1" stroke="#333" stroke-width="1"/><rect x="573.4" y="326.1" width="18" height="44.8" fill="#737373" stroke="#222" stroke-width="0.8"/><path d="M610.1 352.3V350.0M605.4 350.0H614.8000000000001" stroke="#333" stroke-width="1"/><rect x="601.1" y="352.3" width="18" height="18.6" fill="#D8D8D8" stroke="#222" stroke-width="0.8"/><path d="M637.7 361.8V360.0M633.0 360.0H642.4000000000001" stroke="#333" stroke-width="1"/><rect x="628.7" y="361.8" width="18" height="9.1" fill="#555555" stroke="#222" stroke-width="0.8"/><g font-family="Liberation Serif, serif" font-size="11.3" fill="#222" text-anchor="end"><text x="501.5" y="374.5">0</text><text x="501.5" y="325.1">200</text><text x="501.5" y="275.8">400</text><text x="501.5" y="226.4">600</text></g><g font-family="Liberation Serif, serif" font-size="10.4" fill="#222" text-anchor="middle"><text x="526.9" y="388.3">0</text><text x="554.6" y="388.3">5</text><text x="582.4" y="388.3">10</text><text x="610.1" y="388.3">20</text><text x="637.7" y="388.3">50</text></g><text x="646.4" y="386.3" font-family="Liberation Serif, serif" font-size="10.6" fill="#222">(ng/mL)</text><path d="M553 296.5H654M517 392.5H645" stroke="#444" stroke-width="0.9"/><text x="603.2" y="298.8" font-family="Liberation Serif, serif" font-size="11.5" text-anchor="middle" fill="#222">*</text><text x="565.4" y="402.6" font-family="Liberation Serif, serif" font-size="11.3" fill="#222">TGF-β1</text><text transform="translate(476.2 296.5) rotate(-90)" font-family="Liberation Serif, serif" font-size="10.9" text-anchor="middle" fill="#222">HGF(pg/mL)</text>
</svg>
</body></html>
